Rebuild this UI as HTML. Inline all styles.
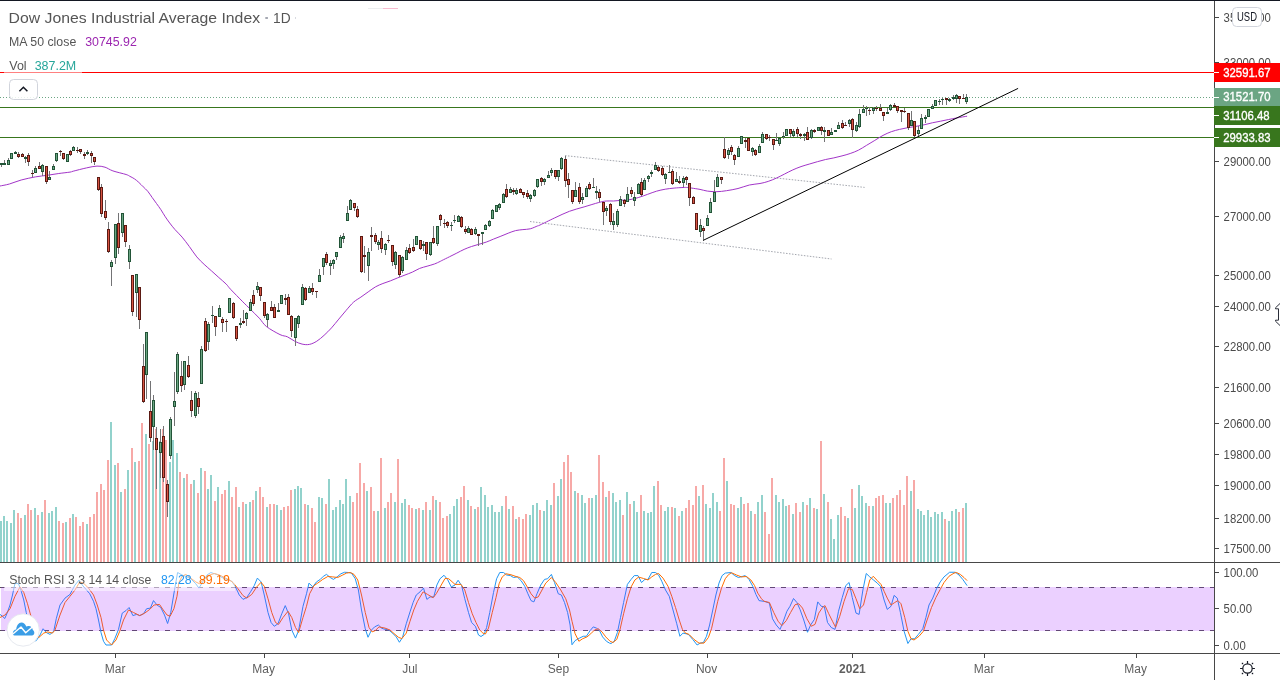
<!DOCTYPE html>
<html><head><meta charset="utf-8"><title>Dow Jones Industrial Average Index</title>
<style>
html,body{margin:0;padding:0;background:#fff;}
body{width:1280px;height:680px;overflow:hidden;position:relative;font-family:'Liberation Sans', Arial, sans-serif;}
svg{position:absolute;left:0;top:0;display:block;}
#main{will-change:transform;}
</style></head><body>
<svg id="main" width="1280" height="680" viewBox="0 0 1280 680" font-family="'Liberation Sans', Arial, sans-serif">
<rect x="0" y="0" width="1280" height="680" fill="#ffffff"/>
<g shape-rendering="crispEdges"><rect x="0" y="521" width="2" height="41" fill="#92d2cc"/><rect x="3" y="516" width="2" height="46" fill="#92d2cc"/><rect x="6" y="521" width="2" height="41" fill="#92d2cc"/><rect x="10" y="523" width="2" height="39" fill="#92d2cc"/><rect x="13" y="510" width="2" height="52" fill="#92d2cc"/><rect x="17" y="513" width="2" height="49" fill="#f7a9a7"/><rect x="20" y="518" width="2" height="44" fill="#f7a9a7"/><rect x="24" y="515" width="2" height="47" fill="#92d2cc"/><rect x="27" y="504" width="2" height="58" fill="#f7a9a7"/><rect x="30" y="510" width="2" height="52" fill="#f7a9a7"/><rect x="34" y="508" width="2" height="54" fill="#92d2cc"/><rect x="37" y="515" width="2" height="47" fill="#f7a9a7"/><rect x="41" y="512" width="2" height="50" fill="#92d2cc"/><rect x="44" y="500" width="2" height="62" fill="#f7a9a7"/><rect x="48" y="513" width="2" height="49" fill="#92d2cc"/><rect x="51" y="511" width="2" height="51" fill="#92d2cc"/><rect x="55" y="507" width="2" height="55" fill="#92d2cc"/><rect x="58" y="521" width="2" height="41" fill="#f7a9a7"/><rect x="62" y="523" width="2" height="39" fill="#f7a9a7"/><rect x="65" y="522" width="2" height="40" fill="#92d2cc"/><rect x="69" y="518" width="2" height="44" fill="#f7a9a7"/><rect x="72" y="514" width="2" height="48" fill="#92d2cc"/><rect x="75" y="517" width="2" height="45" fill="#f7a9a7"/><rect x="79" y="526" width="2" height="36" fill="#f7a9a7"/><rect x="82" y="522" width="2" height="40" fill="#f7a9a7"/><rect x="86" y="524" width="2" height="38" fill="#92d2cc"/><rect x="89" y="517" width="2" height="45" fill="#f7a9a7"/><rect x="93" y="514" width="2" height="48" fill="#f7a9a7"/><rect x="96" y="492" width="2" height="70" fill="#f7a9a7"/><rect x="100" y="484" width="2" height="78" fill="#f7a9a7"/><rect x="103" y="490" width="2" height="72" fill="#f7a9a7"/><rect x="107" y="460" width="2" height="102" fill="#f7a9a7"/><rect x="110" y="422" width="2" height="140" fill="#92d2cc"/><rect x="114" y="465" width="2" height="97" fill="#92d2cc"/><rect x="117" y="463" width="2" height="99" fill="#f7a9a7"/><rect x="120" y="492" width="2" height="70" fill="#92d2cc"/><rect x="124" y="489" width="2" height="73" fill="#f7a9a7"/><rect x="127" y="470" width="2" height="92" fill="#92d2cc"/><rect x="131" y="448" width="2" height="114" fill="#f7a9a7"/><rect x="134" y="462" width="2" height="100" fill="#92d2cc"/><rect x="138" y="461" width="2" height="101" fill="#f7a9a7"/><rect x="141" y="423" width="2" height="139" fill="#f7a9a7"/><rect x="145" y="434" width="2" height="128" fill="#92d2cc"/><rect x="148" y="444" width="2" height="118" fill="#f7a9a7"/><rect x="152" y="441" width="2" height="121" fill="#92d2cc"/><rect x="155" y="429" width="2" height="133" fill="#f7a9a7"/><rect x="159" y="441" width="2" height="121" fill="#92d2cc"/><rect x="162" y="429" width="2" height="133" fill="#f7a9a7"/><rect x="165" y="440" width="2" height="122" fill="#f7a9a7"/><rect x="169" y="462" width="2" height="100" fill="#92d2cc"/><rect x="172" y="440" width="2" height="122" fill="#92d2cc"/><rect x="176" y="453" width="2" height="109" fill="#92d2cc"/><rect x="179" y="472" width="2" height="90" fill="#f7a9a7"/><rect x="183" y="478" width="2" height="84" fill="#92d2cc"/><rect x="186" y="474" width="2" height="88" fill="#f7a9a7"/><rect x="190" y="484" width="2" height="78" fill="#f7a9a7"/><rect x="193" y="480" width="2" height="82" fill="#92d2cc"/><rect x="197" y="493" width="2" height="69" fill="#f7a9a7"/><rect x="200" y="468" width="2" height="94" fill="#92d2cc"/><rect x="204" y="471" width="2" height="91" fill="#f7a9a7"/><rect x="207" y="489" width="2" height="73" fill="#92d2cc"/><rect x="210" y="475" width="2" height="87" fill="#92d2cc"/><rect x="214" y="501" width="2" height="61" fill="#f7a9a7"/><rect x="217" y="487" width="2" height="75" fill="#92d2cc"/><rect x="221" y="494" width="2" height="68" fill="#f7a9a7"/><rect x="224" y="490" width="2" height="72" fill="#f7a9a7"/><rect x="228" y="481" width="2" height="81" fill="#92d2cc"/><rect x="231" y="497" width="2" height="65" fill="#f7a9a7"/><rect x="235" y="487" width="2" height="75" fill="#f7a9a7"/><rect x="238" y="507" width="2" height="55" fill="#92d2cc"/><rect x="242" y="502" width="2" height="60" fill="#f7a9a7"/><rect x="245" y="504" width="2" height="58" fill="#92d2cc"/><rect x="249" y="502" width="2" height="60" fill="#92d2cc"/><rect x="252" y="500" width="2" height="62" fill="#f7a9a7"/><rect x="255" y="491" width="2" height="71" fill="#92d2cc"/><rect x="259" y="487" width="2" height="75" fill="#f7a9a7"/><rect x="262" y="497" width="2" height="65" fill="#f7a9a7"/><rect x="266" y="507" width="2" height="55" fill="#92d2cc"/><rect x="269" y="504" width="2" height="58" fill="#f7a9a7"/><rect x="273" y="504" width="2" height="58" fill="#f7a9a7"/><rect x="276" y="505" width="2" height="57" fill="#92d2cc"/><rect x="280" y="510" width="2" height="52" fill="#92d2cc"/><rect x="283" y="507" width="2" height="55" fill="#f7a9a7"/><rect x="287" y="506" width="2" height="56" fill="#f7a9a7"/><rect x="290" y="490" width="2" height="72" fill="#f7a9a7"/><rect x="294" y="489" width="2" height="73" fill="#92d2cc"/><rect x="297" y="486" width="2" height="76" fill="#92d2cc"/><rect x="300" y="488" width="2" height="74" fill="#92d2cc"/><rect x="304" y="504" width="2" height="58" fill="#f7a9a7"/><rect x="307" y="505" width="2" height="57" fill="#92d2cc"/><rect x="311" y="508" width="2" height="54" fill="#f7a9a7"/><rect x="314" y="522" width="2" height="40" fill="#f7a9a7"/><rect x="318" y="497" width="2" height="65" fill="#92d2cc"/><rect x="321" y="498" width="2" height="64" fill="#92d2cc"/><rect x="325" y="504" width="2" height="58" fill="#f7a9a7"/><rect x="328" y="479" width="2" height="83" fill="#92d2cc"/><rect x="332" y="510" width="2" height="52" fill="#92d2cc"/><rect x="335" y="507" width="2" height="55" fill="#92d2cc"/><rect x="339" y="500" width="2" height="62" fill="#92d2cc"/><rect x="342" y="504" width="2" height="58" fill="#92d2cc"/><rect x="345" y="479" width="2" height="83" fill="#92d2cc"/><rect x="349" y="496" width="2" height="66" fill="#92d2cc"/><rect x="352" y="502" width="2" height="60" fill="#f7a9a7"/><rect x="356" y="493" width="2" height="69" fill="#f7a9a7"/><rect x="359" y="463" width="2" height="99" fill="#f7a9a7"/><rect x="363" y="483" width="2" height="79" fill="#f7a9a7"/><rect x="366" y="491" width="2" height="71" fill="#92d2cc"/><rect x="370" y="487" width="2" height="75" fill="#f7a9a7"/><rect x="373" y="511" width="2" height="51" fill="#f7a9a7"/><rect x="377" y="511" width="2" height="51" fill="#92d2cc"/><rect x="380" y="458" width="2" height="104" fill="#f7a9a7"/><rect x="384" y="508" width="2" height="54" fill="#92d2cc"/><rect x="387" y="502" width="2" height="60" fill="#f7a9a7"/><rect x="390" y="493" width="2" height="69" fill="#f7a9a7"/><rect x="394" y="502" width="2" height="60" fill="#92d2cc"/><rect x="397" y="459" width="2" height="103" fill="#f7a9a7"/><rect x="401" y="503" width="2" height="59" fill="#92d2cc"/><rect x="404" y="499" width="2" height="63" fill="#92d2cc"/><rect x="408" y="505" width="2" height="57" fill="#f7a9a7"/><rect x="411" y="508" width="2" height="54" fill="#f7a9a7"/><rect x="415" y="509" width="2" height="53" fill="#92d2cc"/><rect x="418" y="508" width="2" height="54" fill="#f7a9a7"/><rect x="422" y="510" width="2" height="52" fill="#92d2cc"/><rect x="425" y="502" width="2" height="60" fill="#f7a9a7"/><rect x="429" y="510" width="2" height="52" fill="#92d2cc"/><rect x="432" y="496" width="2" height="66" fill="#f7a9a7"/><rect x="435" y="500" width="2" height="62" fill="#92d2cc"/><rect x="439" y="502" width="2" height="60" fill="#f7a9a7"/><rect x="442" y="518" width="2" height="44" fill="#f7a9a7"/><rect x="446" y="516" width="2" height="46" fill="#f7a9a7"/><rect x="449" y="514" width="2" height="48" fill="#92d2cc"/><rect x="453" y="506" width="2" height="56" fill="#92d2cc"/><rect x="456" y="499" width="2" height="63" fill="#92d2cc"/><rect x="460" y="497" width="2" height="65" fill="#f7a9a7"/><rect x="463" y="486" width="2" height="76" fill="#f7a9a7"/><rect x="467" y="500" width="2" height="62" fill="#92d2cc"/><rect x="470" y="506" width="2" height="56" fill="#f7a9a7"/><rect x="474" y="509" width="2" height="53" fill="#92d2cc"/><rect x="477" y="507" width="2" height="55" fill="#f7a9a7"/><rect x="480" y="487" width="2" height="75" fill="#92d2cc"/><rect x="484" y="495" width="2" height="67" fill="#92d2cc"/><rect x="487" y="507" width="2" height="55" fill="#92d2cc"/><rect x="491" y="505" width="2" height="57" fill="#92d2cc"/><rect x="494" y="512" width="2" height="50" fill="#92d2cc"/><rect x="498" y="512" width="2" height="50" fill="#92d2cc"/><rect x="501" y="506" width="2" height="56" fill="#92d2cc"/><rect x="505" y="496" width="2" height="66" fill="#f7a9a7"/><rect x="508" y="509" width="2" height="53" fill="#92d2cc"/><rect x="512" y="506" width="2" height="56" fill="#f7a9a7"/><rect x="515" y="519" width="2" height="43" fill="#92d2cc"/><rect x="518" y="517" width="2" height="45" fill="#f7a9a7"/><rect x="522" y="519" width="2" height="43" fill="#f7a9a7"/><rect x="525" y="514" width="2" height="48" fill="#f7a9a7"/><rect x="529" y="515" width="2" height="47" fill="#92d2cc"/><rect x="532" y="505" width="2" height="57" fill="#92d2cc"/><rect x="536" y="503" width="2" height="59" fill="#92d2cc"/><rect x="539" y="510" width="2" height="52" fill="#f7a9a7"/><rect x="543" y="511" width="2" height="51" fill="#92d2cc"/><rect x="546" y="500" width="2" height="62" fill="#92d2cc"/><rect x="550" y="505" width="2" height="57" fill="#92d2cc"/><rect x="553" y="483" width="2" height="79" fill="#f7a9a7"/><rect x="557" y="496" width="2" height="66" fill="#92d2cc"/><rect x="560" y="479" width="2" height="83" fill="#92d2cc"/><rect x="563" y="462" width="2" height="100" fill="#f7a9a7"/><rect x="567" y="455" width="2" height="107" fill="#f7a9a7"/><rect x="570" y="472" width="2" height="90" fill="#f7a9a7"/><rect x="574" y="491" width="2" height="71" fill="#92d2cc"/><rect x="577" y="493" width="2" height="69" fill="#f7a9a7"/><rect x="581" y="495" width="2" height="67" fill="#92d2cc"/><rect x="584" y="503" width="2" height="59" fill="#92d2cc"/><rect x="588" y="498" width="2" height="64" fill="#f7a9a7"/><rect x="591" y="498" width="2" height="64" fill="#92d2cc"/><rect x="595" y="495" width="2" height="67" fill="#92d2cc"/><rect x="598" y="455" width="2" height="107" fill="#f7a9a7"/><rect x="602" y="482" width="2" height="80" fill="#f7a9a7"/><rect x="605" y="497" width="2" height="65" fill="#92d2cc"/><rect x="608" y="491" width="2" height="71" fill="#f7a9a7"/><rect x="612" y="493" width="2" height="69" fill="#92d2cc"/><rect x="615" y="502" width="2" height="60" fill="#92d2cc"/><rect x="619" y="500" width="2" height="62" fill="#92d2cc"/><rect x="622" y="515" width="2" height="47" fill="#f7a9a7"/><rect x="626" y="492" width="2" height="70" fill="#92d2cc"/><rect x="629" y="504" width="2" height="58" fill="#f7a9a7"/><rect x="633" y="501" width="2" height="61" fill="#92d2cc"/><rect x="636" y="512" width="2" height="50" fill="#92d2cc"/><rect x="640" y="495" width="2" height="67" fill="#f7a9a7"/><rect x="643" y="511" width="2" height="51" fill="#92d2cc"/><rect x="647" y="513" width="2" height="49" fill="#92d2cc"/><rect x="650" y="512" width="2" height="50" fill="#92d2cc"/><rect x="653" y="486" width="2" height="76" fill="#92d2cc"/><rect x="657" y="481" width="2" height="81" fill="#f7a9a7"/><rect x="660" y="505" width="2" height="57" fill="#f7a9a7"/><rect x="664" y="511" width="2" height="51" fill="#92d2cc"/><rect x="667" y="507" width="2" height="55" fill="#92d2cc"/><rect x="671" y="507" width="2" height="55" fill="#f7a9a7"/><rect x="674" y="508" width="2" height="54" fill="#92d2cc"/><rect x="678" y="516" width="2" height="46" fill="#f7a9a7"/><rect x="681" y="511" width="2" height="51" fill="#92d2cc"/><rect x="685" y="508" width="2" height="54" fill="#f7a9a7"/><rect x="688" y="500" width="2" height="62" fill="#f7a9a7"/><rect x="692" y="505" width="2" height="57" fill="#f7a9a7"/><rect x="695" y="486" width="2" height="76" fill="#f7a9a7"/><rect x="698" y="496" width="2" height="66" fill="#92d2cc"/><rect x="702" y="485" width="2" height="77" fill="#f7a9a7"/><rect x="705" y="504" width="2" height="58" fill="#92d2cc"/><rect x="709" y="508" width="2" height="54" fill="#92d2cc"/><rect x="712" y="493" width="2" height="69" fill="#92d2cc"/><rect x="716" y="502" width="2" height="60" fill="#92d2cc"/><rect x="719" y="511" width="2" height="51" fill="#f7a9a7"/><rect x="723" y="458" width="2" height="104" fill="#f7a9a7"/><rect x="726" y="481" width="2" height="81" fill="#92d2cc"/><rect x="730" y="504" width="2" height="58" fill="#f7a9a7"/><rect x="733" y="505" width="2" height="57" fill="#f7a9a7"/><rect x="737" y="508" width="2" height="54" fill="#92d2cc"/><rect x="740" y="497" width="2" height="65" fill="#92d2cc"/><rect x="743" y="504" width="2" height="58" fill="#f7a9a7"/><rect x="747" y="503" width="2" height="59" fill="#f7a9a7"/><rect x="750" y="511" width="2" height="51" fill="#92d2cc"/><rect x="754" y="514" width="2" height="48" fill="#f7a9a7"/><rect x="757" y="502" width="2" height="60" fill="#92d2cc"/><rect x="761" y="495" width="2" height="67" fill="#92d2cc"/><rect x="764" y="512" width="2" height="50" fill="#f7a9a7"/><rect x="768" y="534" width="2" height="28" fill="#f7a9a7"/><rect x="771" y="478" width="2" height="84" fill="#f7a9a7"/><rect x="775" y="495" width="2" height="67" fill="#92d2cc"/><rect x="778" y="502" width="2" height="60" fill="#92d2cc"/><rect x="782" y="499" width="2" height="63" fill="#92d2cc"/><rect x="785" y="506" width="2" height="56" fill="#92d2cc"/><rect x="788" y="505" width="2" height="57" fill="#f7a9a7"/><rect x="792" y="514" width="2" height="48" fill="#92d2cc"/><rect x="795" y="503" width="2" height="59" fill="#f7a9a7"/><rect x="799" y="512" width="2" height="50" fill="#f7a9a7"/><rect x="802" y="502" width="2" height="60" fill="#92d2cc"/><rect x="806" y="505" width="2" height="57" fill="#f7a9a7"/><rect x="809" y="498" width="2" height="64" fill="#92d2cc"/><rect x="813" y="508" width="2" height="54" fill="#f7a9a7"/><rect x="816" y="509" width="2" height="53" fill="#92d2cc"/><rect x="820" y="441" width="2" height="121" fill="#f7a9a7"/><rect x="823" y="494" width="2" height="68" fill="#92d2cc"/><rect x="827" y="502" width="2" height="60" fill="#f7a9a7"/><rect x="830" y="519" width="2" height="43" fill="#92d2cc"/><rect x="833" y="539" width="2" height="23" fill="#92d2cc"/><rect x="837" y="515" width="2" height="47" fill="#92d2cc"/><rect x="840" y="507" width="2" height="55" fill="#f7a9a7"/><rect x="844" y="516" width="2" height="46" fill="#f7a9a7"/><rect x="847" y="518" width="2" height="44" fill="#92d2cc"/><rect x="851" y="489" width="2" height="73" fill="#f7a9a7"/><rect x="854" y="508" width="2" height="54" fill="#92d2cc"/><rect x="858" y="485" width="2" height="77" fill="#92d2cc"/><rect x="861" y="496" width="2" height="66" fill="#92d2cc"/><rect x="865" y="503" width="2" height="59" fill="#92d2cc"/><rect x="868" y="506" width="2" height="56" fill="#f7a9a7"/><rect x="872" y="506" width="2" height="56" fill="#92d2cc"/><rect x="875" y="498" width="2" height="64" fill="#f7a9a7"/><rect x="878" y="496" width="2" height="66" fill="#f7a9a7"/><rect x="882" y="495" width="2" height="67" fill="#f7a9a7"/><rect x="885" y="503" width="2" height="59" fill="#92d2cc"/><rect x="889" y="503" width="2" height="59" fill="#92d2cc"/><rect x="892" y="498" width="2" height="64" fill="#f7a9a7"/><rect x="896" y="495" width="2" height="67" fill="#f7a9a7"/><rect x="899" y="490" width="2" height="72" fill="#f7a9a7"/><rect x="903" y="505" width="2" height="57" fill="#f7a9a7"/><rect x="906" y="476" width="2" height="86" fill="#f7a9a7"/><rect x="910" y="491" width="2" height="71" fill="#92d2cc"/><rect x="913" y="480" width="2" height="82" fill="#f7a9a7"/><rect x="917" y="509" width="2" height="53" fill="#92d2cc"/><rect x="920" y="511" width="2" height="51" fill="#92d2cc"/><rect x="923" y="515" width="2" height="47" fill="#92d2cc"/><rect x="927" y="510" width="2" height="52" fill="#92d2cc"/><rect x="930" y="517" width="2" height="45" fill="#92d2cc"/><rect x="934" y="512" width="2" height="50" fill="#92d2cc"/><rect x="937" y="514" width="2" height="48" fill="#92d2cc"/><rect x="941" y="512" width="2" height="50" fill="#92d2cc"/><rect x="944" y="519" width="2" height="43" fill="#f7a9a7"/><rect x="948" y="521" width="2" height="41" fill="#92d2cc"/><rect x="951" y="511" width="2" height="51" fill="#92d2cc"/><rect x="955" y="509" width="2" height="53" fill="#92d2cc"/><rect x="958" y="512" width="2" height="50" fill="#f7a9a7"/><rect x="962" y="508" width="2" height="54" fill="#f7a9a7"/><rect x="965" y="503" width="2" height="59" fill="#92d2cc"/></g>
<g shape-rendering="crispEdges">
<rect x="0" y="72" width="1214" height="1" fill="#ff0000"/>
<rect x="0" y="107" width="1214" height="1" fill="#38761d"/>
<rect x="0" y="137" width="1214" height="1" fill="#38761d"/>
</g>
<line x1="0" y1="97.5" x2="1214" y2="97.5" stroke="#6ba583" stroke-width="1" stroke-dasharray="1 2"/>
<line x1="565" y1="155.6" x2="864.6" y2="187.4" stroke="#a3a6ae" stroke-width="1" stroke-dasharray="1.5 1.5"/>
<line x1="530" y1="221.5" x2="831.5" y2="259" stroke="#a3a6ae" stroke-width="1" stroke-dasharray="1.5 1.5"/>
<path d="M0.00,186.00 C1.57,185.67 5.87,185.00 9.40,184.00 C12.93,183.00 16.88,181.18 21.20,180.00 C25.52,178.82 30.98,177.68 35.30,176.90 C39.62,176.12 43.18,175.87 47.10,175.30 C51.02,174.73 54.98,174.03 58.80,173.50 C62.62,172.97 67.60,172.48 70.00,172.10 C72.40,171.72 70.45,171.90 73.20,171.20 C75.95,170.50 82.53,168.75 86.50,167.90 C90.47,167.05 93.92,166.22 97.00,166.10 C100.08,165.98 102.35,166.40 105.00,167.20 C107.65,168.00 109.38,169.68 112.90,170.90 C116.42,172.12 123.25,173.58 126.10,174.50 C128.95,175.42 128.62,175.68 130.00,176.40 C131.38,177.12 132.93,177.80 134.40,178.80 C135.87,179.80 137.33,181.07 138.80,182.40 C140.27,183.73 141.72,185.33 143.20,186.80 C144.68,188.27 146.22,189.43 147.70,191.20 C149.18,192.97 150.63,195.35 152.10,197.40 C153.57,199.45 155.03,201.45 156.50,203.50 C157.97,205.55 159.43,207.48 160.90,209.70 C162.37,211.92 163.83,214.58 165.30,216.80 C166.77,219.02 168.08,220.87 169.70,223.00 C171.32,225.13 172.93,227.25 175.00,229.60 C177.07,231.95 179.70,234.27 182.10,237.10 C184.50,239.93 186.95,243.30 189.40,246.60 C191.85,249.90 194.35,253.95 196.80,256.90 C199.25,259.85 201.65,261.97 204.10,264.30 C206.55,266.63 209.05,268.70 211.50,270.90 C213.95,273.10 216.35,275.30 218.80,277.50 C221.25,279.70 224.23,282.13 226.20,284.10 C228.17,286.07 227.83,286.35 230.60,289.30 C233.37,292.25 239.58,298.55 242.80,301.80 C246.02,305.05 247.15,306.07 249.90,308.80 C252.65,311.53 256.55,315.25 259.30,318.20 C262.05,321.15 262.95,323.77 266.40,326.50 C269.85,329.23 276.50,332.88 280.00,334.60 C283.50,336.32 284.95,335.70 287.40,336.80 C289.85,337.90 292.25,339.98 294.70,341.20 C297.15,342.42 299.65,343.57 302.10,344.10 C304.55,344.63 306.95,344.88 309.40,344.40 C311.85,343.92 314.35,342.72 316.80,341.20 C319.25,339.68 321.65,337.52 324.10,335.30 C326.55,333.08 329.05,330.60 331.50,327.90 C333.95,325.20 336.35,322.03 338.80,319.10 C341.25,316.17 343.75,313.12 346.20,310.30 C348.65,307.48 351.05,304.40 353.50,302.20 C355.95,300.00 358.45,298.82 360.90,297.10 C363.35,295.38 365.75,293.62 368.20,291.90 C370.65,290.18 373.15,288.20 375.60,286.80 C378.05,285.40 380.45,284.48 382.90,283.50 C385.35,282.52 387.85,281.83 390.30,280.90 C392.75,279.97 395.15,278.88 397.60,277.90 C400.05,276.92 402.53,275.97 405.00,275.00 C407.47,274.03 409.95,273.20 412.40,272.10 C414.85,271.00 417.25,269.38 419.70,268.40 C422.15,267.42 424.65,266.93 427.10,266.20 C429.55,265.47 432.25,264.78 434.40,264.00 C436.55,263.22 438.72,262.10 440.00,261.50 C441.28,260.90 440.53,261.18 442.10,260.40 C443.67,259.62 446.95,258.02 449.40,256.80 C451.85,255.58 454.35,254.33 456.80,253.10 C459.25,251.87 461.65,250.50 464.10,249.40 C466.55,248.30 469.05,247.35 471.50,246.50 C473.95,245.65 476.35,245.03 478.80,244.30 C481.25,243.57 483.75,242.97 486.20,242.10 C488.65,241.23 491.05,240.08 493.50,239.10 C495.95,238.12 498.45,237.18 500.90,236.20 C503.35,235.22 505.75,234.13 508.20,233.20 C510.65,232.27 513.15,231.20 515.60,230.60 C518.05,230.00 520.45,229.90 522.90,229.60 C525.35,229.30 527.85,229.42 530.30,228.80 C532.75,228.18 535.98,226.53 537.60,225.90 C539.22,225.27 537.15,226.33 540.00,225.00 C542.85,223.67 549.80,220.18 554.70,217.90 C559.60,215.62 564.50,213.13 569.40,211.30 C574.30,209.47 579.20,208.37 584.10,206.90 C589.00,205.43 595.12,203.48 598.80,202.50 C602.48,201.52 603.75,201.25 606.20,201.00 C608.65,200.75 611.05,201.12 613.50,201.00 C615.95,200.88 618.15,200.53 620.90,200.30 C623.65,200.07 627.02,200.08 630.00,199.60 C632.98,199.12 635.85,198.28 638.80,197.40 C641.75,196.52 644.75,195.33 647.70,194.30 C650.65,193.27 653.57,192.05 656.50,191.20 C659.43,190.35 662.37,189.72 665.30,189.20 C668.23,188.68 671.15,188.38 674.10,188.10 C677.05,187.82 680.78,187.60 683.00,187.50 C685.22,187.40 685.93,187.40 687.40,187.50 C688.87,187.60 689.70,187.78 691.80,188.10 C693.90,188.42 697.40,188.90 700.00,189.40 C702.60,189.90 704.58,190.72 707.40,191.10 C710.22,191.48 713.72,191.77 716.90,191.70 C720.08,191.63 722.98,191.23 726.50,190.70 C730.02,190.17 734.18,189.45 738.00,188.50 C741.82,187.55 745.73,185.83 749.40,185.00 C753.07,184.17 756.87,184.10 760.00,183.50 C763.13,182.90 765.47,182.30 768.20,181.40 C770.93,180.50 773.67,179.33 776.40,178.10 C779.13,176.87 781.87,175.37 784.60,174.00 C787.33,172.63 790.07,171.13 792.80,169.90 C795.53,168.67 798.27,167.57 801.00,166.60 C803.73,165.63 806.47,164.92 809.20,164.10 C811.93,163.28 814.67,162.47 817.40,161.70 C820.13,160.93 822.87,160.13 825.60,159.50 C828.33,158.87 831.07,158.50 833.80,157.90 C836.53,157.30 839.27,156.63 842.00,155.90 C844.73,155.17 847.47,154.45 850.20,153.50 C852.93,152.55 855.67,151.57 858.40,150.20 C861.13,148.83 863.87,146.93 866.60,145.30 C869.33,143.67 872.07,142.05 874.80,140.40 C877.53,138.75 880.25,136.85 883.00,135.40 C885.75,133.95 888.55,132.70 891.30,131.70 C894.05,130.70 896.77,130.07 899.50,129.40 C902.23,128.73 904.97,128.20 907.70,127.70 C910.43,127.20 913.17,126.88 915.90,126.40 C918.63,125.92 921.37,125.40 924.10,124.80 C926.83,124.20 929.57,123.40 932.30,122.80 C935.03,122.20 937.77,121.75 940.50,121.20 C943.23,120.65 945.97,120.05 948.70,119.50 C951.43,118.95 953.83,118.45 956.90,117.90 C959.97,117.35 965.40,116.48 967.10,116.20" fill="none" stroke="#a235c8" stroke-width="1"/>
<g shape-rendering="crispEdges" fill="#737375"><rect x="1" y="163" width="1" height="4"/><rect x="4" y="160" width="1" height="5"/><rect x="8" y="158" width="1" height="7"/><rect x="11" y="153" width="1" height="6"/><rect x="15" y="151" width="1" height="3"/><rect x="18" y="152" width="1" height="6"/><rect x="22" y="153" width="1" height="4"/><rect x="25" y="156" width="1" height="7"/><rect x="28" y="153" width="1" height="13"/><rect x="32" y="170" width="1" height="7"/><rect x="35" y="166" width="1" height="7"/><rect x="39" y="162" width="1" height="7"/><rect x="42" y="164" width="1" height="12"/><rect x="46" y="166" width="1" height="18"/><rect x="49" y="171" width="1" height="9"/><rect x="53" y="164" width="1" height="6"/><rect x="56" y="153" width="1" height="9"/><rect x="60" y="150" width="1" height="6"/><rect x="63" y="153" width="1" height="7"/><rect x="67" y="154" width="1" height="8"/><rect x="70" y="150" width="1" height="6"/><rect x="73" y="146" width="1" height="5"/><rect x="77" y="147" width="1" height="6"/><rect x="80" y="149" width="1" height="5"/><rect x="84" y="152" width="1" height="7"/><rect x="87" y="150" width="1" height="5"/><rect x="91" y="151" width="1" height="12"/><rect x="94" y="157" width="1" height="8"/><rect x="98" y="177" width="1" height="14"/><rect x="101" y="184" width="1" height="33"/><rect x="105" y="200" width="1" height="20"/><rect x="108" y="222" width="1" height="31"/><rect x="111" y="260" width="1" height="26"/><rect x="115" y="224" width="1" height="40"/><rect x="118" y="213" width="1" height="41"/><rect x="122" y="213" width="1" height="24"/><rect x="125" y="225" width="1" height="22"/><rect x="129" y="245" width="1" height="24"/><rect x="132" y="275" width="1" height="41"/><rect x="136" y="274" width="1" height="43"/><rect x="139" y="287" width="1" height="42"/><rect x="143" y="344" width="1" height="59"/><rect x="146" y="332" width="1" height="67"/><rect x="150" y="381" width="1" height="61"/><rect x="153" y="395" width="1" height="55"/><rect x="156" y="427" width="1" height="62"/><rect x="160" y="429" width="1" height="49"/><rect x="163" y="426" width="1" height="56"/><rect x="167" y="480" width="1" height="37"/><rect x="170" y="417" width="1" height="42"/><rect x="174" y="372" width="1" height="54"/><rect x="177" y="352" width="1" height="42"/><rect x="181" y="361" width="1" height="31"/><rect x="184" y="361" width="1" height="29"/><rect x="188" y="356" width="1" height="22"/><rect x="191" y="391" width="1" height="26"/><rect x="195" y="391" width="1" height="27"/><rect x="198" y="392" width="1" height="22"/><rect x="201" y="346" width="1" height="38"/><rect x="205" y="318" width="1" height="34"/><rect x="208" y="322" width="1" height="28"/><rect x="212" y="306" width="1" height="17"/><rect x="215" y="316" width="1" height="20"/><rect x="219" y="305" width="1" height="12"/><rect x="222" y="317" width="1" height="15"/><rect x="226" y="319" width="1" height="13"/><rect x="229" y="298" width="1" height="15"/><rect x="233" y="302" width="1" height="17"/><rect x="236" y="326" width="1" height="15"/><rect x="240" y="318" width="1" height="10"/><rect x="243" y="310" width="1" height="14"/><rect x="246" y="312" width="1" height="14"/><rect x="250" y="299" width="1" height="12"/><rect x="253" y="290" width="1" height="16"/><rect x="257" y="282" width="1" height="11"/><rect x="260" y="287" width="1" height="14"/><rect x="264" y="302" width="1" height="16"/><rect x="267" y="313" width="1" height="14"/><rect x="271" y="301" width="1" height="10"/><rect x="274" y="304" width="1" height="14"/><rect x="278" y="303" width="1" height="9"/><rect x="281" y="295" width="1" height="9"/><rect x="285" y="294" width="1" height="11"/><rect x="288" y="294" width="1" height="21"/><rect x="291" y="315" width="1" height="22"/><rect x="295" y="318" width="1" height="28"/><rect x="298" y="315" width="1" height="13"/><rect x="302" y="284" width="1" height="21"/><rect x="305" y="287" width="1" height="14"/><rect x="309" y="286" width="1" height="7"/><rect x="312" y="283" width="1" height="12"/><rect x="316" y="291" width="1" height="7"/><rect x="319" y="269" width="1" height="13"/><rect x="323" y="258" width="1" height="17"/><rect x="326" y="252" width="1" height="13"/><rect x="330" y="260" width="1" height="15"/><rect x="333" y="259" width="1" height="10"/><rect x="336" y="252" width="1" height="8"/><rect x="340" y="235" width="1" height="13"/><rect x="343" y="233" width="1" height="10"/><rect x="347" y="206" width="1" height="15"/><rect x="350" y="199" width="1" height="11"/><rect x="354" y="203" width="1" height="8"/><rect x="357" y="206" width="1" height="12"/><rect x="361" y="236" width="1" height="37"/><rect x="364" y="246" width="1" height="27"/><rect x="368" y="248" width="1" height="33"/><rect x="371" y="227" width="1" height="24"/><rect x="375" y="233" width="1" height="11"/><rect x="378" y="240" width="1" height="10"/><rect x="381" y="231" width="1" height="22"/><rect x="385" y="243" width="1" height="12"/><rect x="388" y="235" width="1" height="8"/><rect x="392" y="245" width="1" height="21"/><rect x="395" y="251" width="1" height="18"/><rect x="399" y="255" width="1" height="22"/><rect x="402" y="256" width="1" height="17"/><rect x="406" y="247" width="1" height="13"/><rect x="409" y="244" width="1" height="10"/><rect x="413" y="239" width="1" height="13"/><rect x="416" y="236" width="1" height="9"/><rect x="420" y="240" width="1" height="10"/><rect x="423" y="241" width="1" height="10"/><rect x="426" y="242" width="1" height="18"/><rect x="430" y="242" width="1" height="14"/><rect x="433" y="226" width="1" height="18"/><rect x="437" y="226" width="1" height="20"/><rect x="440" y="214" width="1" height="12"/><rect x="444" y="219" width="1" height="9"/><rect x="447" y="221" width="1" height="7"/><rect x="451" y="222" width="1" height="9"/><rect x="454" y="215" width="1" height="8"/><rect x="458" y="215" width="1" height="7"/><rect x="461" y="216" width="1" height="12"/><rect x="465" y="226" width="1" height="8"/><rect x="468" y="226" width="1" height="7"/><rect x="471" y="228" width="1" height="7"/><rect x="475" y="227" width="1" height="8"/><rect x="478" y="234" width="1" height="12"/><rect x="482" y="232" width="1" height="13"/><rect x="485" y="224" width="1" height="6"/><rect x="489" y="220" width="1" height="7"/><rect x="492" y="209" width="1" height="10"/><rect x="496" y="205" width="1" height="7"/><rect x="499" y="203" width="1" height="7"/><rect x="503" y="193" width="1" height="10"/><rect x="506" y="184" width="1" height="14"/><rect x="510" y="187" width="1" height="6"/><rect x="513" y="188" width="1" height="7"/><rect x="516" y="188" width="1" height="7"/><rect x="520" y="188" width="1" height="5"/><rect x="523" y="192" width="1" height="6"/><rect x="527" y="190" width="1" height="9"/><rect x="530" y="194" width="1" height="8"/><rect x="534" y="189" width="1" height="8"/><rect x="537" y="179" width="1" height="9"/><rect x="541" y="177" width="1" height="9"/><rect x="544" y="178" width="1" height="7"/><rect x="548" y="171" width="1" height="7"/><rect x="551" y="168" width="1" height="8"/><rect x="555" y="170" width="1" height="9"/><rect x="558" y="170" width="1" height="11"/><rect x="561" y="157" width="1" height="13"/><rect x="565" y="156" width="1" height="31"/><rect x="568" y="173" width="1" height="25"/><rect x="572" y="190" width="1" height="14"/><rect x="575" y="182" width="1" height="15"/><rect x="579" y="183" width="1" height="21"/><rect x="582" y="193" width="1" height="11"/><rect x="586" y="186" width="1" height="11"/><rect x="589" y="182" width="1" height="8"/><rect x="593" y="178" width="1" height="10"/><rect x="596" y="186" width="1" height="13"/><rect x="599" y="189" width="1" height="13"/><rect x="603" y="202" width="1" height="23"/><rect x="606" y="206" width="1" height="10"/><rect x="610" y="203" width="1" height="22"/><rect x="613" y="213" width="1" height="17"/><rect x="617" y="209" width="1" height="18"/><rect x="620" y="196" width="1" height="10"/><rect x="624" y="199" width="1" height="8"/><rect x="627" y="187" width="1" height="15"/><rect x="631" y="187" width="1" height="10"/><rect x="634" y="192" width="1" height="14"/><rect x="638" y="183" width="1" height="11"/><rect x="641" y="178" width="1" height="18"/><rect x="644" y="178" width="1" height="12"/><rect x="648" y="175" width="1" height="7"/><rect x="651" y="170" width="1" height="7"/><rect x="655" y="162" width="1" height="8"/><rect x="658" y="166" width="1" height="6"/><rect x="662" y="166" width="1" height="10"/><rect x="665" y="173" width="1" height="11"/><rect x="669" y="165" width="1" height="8"/><rect x="672" y="169" width="1" height="16"/><rect x="676" y="172" width="1" height="10"/><rect x="679" y="176" width="1" height="8"/><rect x="683" y="176" width="1" height="11"/><rect x="686" y="176" width="1" height="9"/><rect x="689" y="183" width="1" height="23"/><rect x="693" y="196" width="1" height="8"/><rect x="696" y="213" width="1" height="17"/><rect x="700" y="219" width="1" height="18"/><rect x="703" y="226" width="1" height="15"/><rect x="707" y="215" width="1" height="11"/><rect x="710" y="198" width="1" height="15"/><rect x="714" y="180" width="1" height="22"/><rect x="717" y="174" width="1" height="13"/><rect x="721" y="177" width="1" height="7"/><rect x="724" y="137" width="1" height="22"/><rect x="728" y="148" width="1" height="11"/><rect x="731" y="145" width="1" height="10"/><rect x="734" y="154" width="1" height="11"/><rect x="738" y="146" width="1" height="11"/><rect x="741" y="136" width="1" height="8"/><rect x="745" y="138" width="1" height="10"/><rect x="748" y="138" width="1" height="13"/><rect x="752" y="147" width="1" height="9"/><rect x="755" y="149" width="1" height="7"/><rect x="759" y="144" width="1" height="9"/><rect x="762" y="132" width="1" height="11"/><rect x="766" y="134" width="1" height="6"/><rect x="769" y="135" width="1" height="6"/><rect x="773" y="139" width="1" height="11"/><rect x="776" y="133" width="1" height="7"/><rect x="779" y="138" width="1" height="8"/><rect x="783" y="132" width="1" height="7"/><rect x="786" y="129" width="1" height="7"/><rect x="790" y="129" width="1" height="8"/><rect x="793" y="129" width="1" height="8"/><rect x="797" y="127" width="1" height="10"/><rect x="800" y="133" width="1" height="6"/><rect x="804" y="133" width="1" height="8"/><rect x="807" y="127" width="1" height="13"/><rect x="811" y="129" width="1" height="10"/><rect x="814" y="129" width="1" height="4"/><rect x="818" y="127" width="1" height="3"/><rect x="821" y="126" width="1" height="9"/><rect x="824" y="127" width="1" height="15"/><rect x="828" y="130" width="1" height="6"/><rect x="831" y="128" width="1" height="7"/><rect x="835" y="130" width="1" height="2"/><rect x="838" y="122" width="1" height="7"/><rect x="842" y="120" width="1" height="9"/><rect x="845" y="122" width="1" height="4"/><rect x="849" y="119" width="1" height="8"/><rect x="852" y="118" width="1" height="20"/><rect x="856" y="122" width="1" height="10"/><rect x="859" y="109" width="1" height="19"/><rect x="863" y="105" width="1" height="8"/><rect x="866" y="106" width="1" height="10"/><rect x="869" y="107" width="1" height="8"/><rect x="873" y="107" width="1" height="7"/><rect x="876" y="106" width="1" height="5"/><rect x="880" y="104" width="1" height="7"/><rect x="883" y="112" width="1" height="9"/><rect x="887" y="108" width="1" height="6"/><rect x="890" y="104" width="1" height="7"/><rect x="894" y="103" width="1" height="4"/><rect x="897" y="106" width="1" height="7"/><rect x="901" y="110" width="1" height="12"/><rect x="904" y="108" width="1" height="5"/><rect x="908" y="113" width="1" height="17"/><rect x="911" y="111" width="1" height="15"/><rect x="914" y="121" width="1" height="16"/><rect x="918" y="126" width="1" height="10"/><rect x="921" y="114" width="1" height="15"/><rect x="925" y="115" width="1" height="8"/><rect x="928" y="109" width="1" height="8"/><rect x="932" y="104" width="1" height="5"/><rect x="935" y="100" width="1" height="6"/><rect x="939" y="99" width="1" height="6"/><rect x="942" y="98" width="1" height="7"/><rect x="946" y="98" width="1" height="7"/><rect x="949" y="98" width="1" height="4"/><rect x="953" y="95" width="1" height="5"/><rect x="956" y="94" width="1" height="9"/><rect x="959" y="96" width="1" height="8"/><rect x="963" y="94" width="1" height="5"/><rect x="966" y="94" width="1" height="10"/></g>
<g shape-rendering="crispEdges"><rect x="0" y="163" width="3" height="2" fill="#225437"/><rect x="3" y="163" width="3" height="2" fill="#225437"/><rect x="7" y="160" width="3" height="5" fill="#225437"/><rect x="8" y="161" width="1" height="3" fill="#6ba583"/><rect x="10" y="153" width="3" height="6" fill="#225437"/><rect x="11" y="154" width="1" height="4" fill="#6ba583"/><rect x="14" y="152" width="3" height="2" fill="#225437"/><rect x="17" y="154" width="3" height="3" fill="#5b1a13"/><rect x="18" y="155" width="1" height="1" fill="#d75442"/><rect x="21" y="154" width="3" height="3" fill="#5b1a13"/><rect x="22" y="155" width="1" height="1" fill="#d75442"/><rect x="24" y="157" width="3" height="2" fill="#225437"/><rect x="27" y="155" width="3" height="7" fill="#5b1a13"/><rect x="28" y="156" width="1" height="5" fill="#d75442"/><rect x="31" y="173" width="3" height="1" fill="#5b1a13"/><rect x="34" y="168" width="3" height="5" fill="#225437"/><rect x="35" y="169" width="1" height="3" fill="#6ba583"/><rect x="38" y="166" width="3" height="3" fill="#5b1a13"/><rect x="39" y="167" width="1" height="1" fill="#d75442"/><rect x="41" y="165" width="3" height="7" fill="#225437"/><rect x="42" y="166" width="1" height="5" fill="#6ba583"/><rect x="45" y="166" width="3" height="16" fill="#5b1a13"/><rect x="46" y="167" width="1" height="14" fill="#d75442"/><rect x="48" y="177" width="3" height="3" fill="#225437"/><rect x="49" y="178" width="1" height="1" fill="#6ba583"/><rect x="52" y="166" width="3" height="4" fill="#225437"/><rect x="53" y="167" width="1" height="2" fill="#6ba583"/><rect x="55" y="153" width="3" height="8" fill="#225437"/><rect x="56" y="154" width="1" height="6" fill="#6ba583"/><rect x="59" y="151" width="3" height="1" fill="#5b1a13"/><rect x="62" y="153" width="3" height="6" fill="#5b1a13"/><rect x="63" y="154" width="1" height="4" fill="#d75442"/><rect x="66" y="154" width="3" height="8" fill="#225437"/><rect x="67" y="155" width="1" height="6" fill="#6ba583"/><rect x="69" y="151" width="3" height="4" fill="#5b1a13"/><rect x="70" y="152" width="1" height="2" fill="#d75442"/><rect x="72" y="147" width="3" height="4" fill="#225437"/><rect x="73" y="148" width="1" height="2" fill="#6ba583"/><rect x="76" y="150" width="3" height="1" fill="#5b1a13"/><rect x="79" y="149" width="3" height="3" fill="#5b1a13"/><rect x="80" y="150" width="1" height="1" fill="#d75442"/><rect x="83" y="154" width="3" height="2" fill="#5b1a13"/><rect x="86" y="152" width="3" height="2" fill="#225437"/><rect x="90" y="153" width="3" height="3" fill="#5b1a13"/><rect x="91" y="154" width="1" height="1" fill="#d75442"/><rect x="93" y="157" width="3" height="5" fill="#5b1a13"/><rect x="94" y="158" width="1" height="3" fill="#d75442"/><rect x="97" y="177" width="3" height="13" fill="#5b1a13"/><rect x="98" y="178" width="1" height="11" fill="#d75442"/><rect x="100" y="187" width="3" height="27" fill="#5b1a13"/><rect x="101" y="188" width="1" height="25" fill="#d75442"/><rect x="104" y="211" width="3" height="7" fill="#5b1a13"/><rect x="105" y="212" width="1" height="5" fill="#d75442"/><rect x="107" y="229" width="3" height="23" fill="#5b1a13"/><rect x="108" y="230" width="1" height="21" fill="#d75442"/><rect x="110" y="262" width="3" height="5" fill="#225437"/><rect x="111" y="263" width="1" height="3" fill="#6ba583"/><rect x="114" y="224" width="3" height="34" fill="#225437"/><rect x="115" y="225" width="1" height="32" fill="#6ba583"/><rect x="117" y="223" width="3" height="25" fill="#5b1a13"/><rect x="118" y="224" width="1" height="23" fill="#d75442"/><rect x="121" y="213" width="3" height="20" fill="#225437"/><rect x="122" y="214" width="1" height="18" fill="#6ba583"/><rect x="124" y="225" width="3" height="17" fill="#5b1a13"/><rect x="125" y="226" width="1" height="15" fill="#d75442"/><rect x="128" y="249" width="3" height="13" fill="#225437"/><rect x="129" y="250" width="1" height="11" fill="#6ba583"/><rect x="131" y="275" width="3" height="37" fill="#5b1a13"/><rect x="132" y="276" width="1" height="35" fill="#d75442"/><rect x="135" y="274" width="3" height="19" fill="#225437"/><rect x="136" y="275" width="1" height="17" fill="#6ba583"/><rect x="138" y="287" width="3" height="33" fill="#5b1a13"/><rect x="139" y="288" width="1" height="31" fill="#d75442"/><rect x="142" y="366" width="3" height="36" fill="#5b1a13"/><rect x="143" y="367" width="1" height="34" fill="#d75442"/><rect x="145" y="332" width="3" height="43" fill="#225437"/><rect x="146" y="333" width="1" height="41" fill="#6ba583"/><rect x="149" y="411" width="3" height="27" fill="#5b1a13"/><rect x="150" y="412" width="1" height="25" fill="#d75442"/><rect x="152" y="400" width="3" height="27" fill="#225437"/><rect x="153" y="401" width="1" height="25" fill="#6ba583"/><rect x="155" y="438" width="3" height="12" fill="#5b1a13"/><rect x="156" y="439" width="1" height="10" fill="#d75442"/><rect x="159" y="442" width="3" height="11" fill="#225437"/><rect x="160" y="443" width="1" height="9" fill="#6ba583"/><rect x="162" y="436" width="3" height="42" fill="#5b1a13"/><rect x="163" y="437" width="1" height="40" fill="#d75442"/><rect x="166" y="484" width="3" height="18" fill="#5b1a13"/><rect x="167" y="485" width="1" height="16" fill="#d75442"/><rect x="169" y="419" width="3" height="37" fill="#225437"/><rect x="170" y="420" width="1" height="35" fill="#6ba583"/><rect x="173" y="401" width="3" height="6" fill="#225437"/><rect x="174" y="402" width="1" height="4" fill="#6ba583"/><rect x="176" y="354" width="3" height="38" fill="#225437"/><rect x="177" y="355" width="1" height="36" fill="#6ba583"/><rect x="180" y="376" width="3" height="10" fill="#5b1a13"/><rect x="181" y="377" width="1" height="8" fill="#d75442"/><rect x="183" y="361" width="3" height="24" fill="#225437"/><rect x="184" y="362" width="1" height="22" fill="#6ba583"/><rect x="187" y="365" width="3" height="12" fill="#5b1a13"/><rect x="188" y="366" width="1" height="10" fill="#d75442"/><rect x="190" y="400" width="3" height="11" fill="#5b1a13"/><rect x="191" y="401" width="1" height="9" fill="#d75442"/><rect x="194" y="393" width="3" height="23" fill="#225437"/><rect x="195" y="394" width="1" height="21" fill="#6ba583"/><rect x="197" y="398" width="3" height="9" fill="#5b1a13"/><rect x="198" y="399" width="1" height="7" fill="#d75442"/><rect x="200" y="349" width="3" height="35" fill="#225437"/><rect x="201" y="350" width="1" height="33" fill="#6ba583"/><rect x="204" y="321" width="3" height="30" fill="#5b1a13"/><rect x="205" y="322" width="1" height="28" fill="#d75442"/><rect x="207" y="324" width="3" height="18" fill="#225437"/><rect x="208" y="325" width="1" height="16" fill="#6ba583"/><rect x="211" y="315" width="3" height="1" fill="#225437"/><rect x="214" y="316" width="3" height="11" fill="#5b1a13"/><rect x="215" y="317" width="1" height="9" fill="#d75442"/><rect x="218" y="308" width="3" height="9" fill="#225437"/><rect x="219" y="309" width="1" height="7" fill="#6ba583"/><rect x="221" y="319" width="3" height="4" fill="#5b1a13"/><rect x="222" y="320" width="1" height="2" fill="#d75442"/><rect x="225" y="321" width="3" height="1" fill="#5b1a13"/><rect x="228" y="298" width="3" height="15" fill="#225437"/><rect x="229" y="299" width="1" height="13" fill="#6ba583"/><rect x="232" y="303" width="3" height="15" fill="#5b1a13"/><rect x="233" y="304" width="1" height="13" fill="#d75442"/><rect x="235" y="326" width="3" height="13" fill="#5b1a13"/><rect x="236" y="327" width="1" height="11" fill="#d75442"/><rect x="239" y="323" width="3" height="2" fill="#225437"/><rect x="242" y="321" width="3" height="2" fill="#5b1a13"/><rect x="245" y="313" width="3" height="6" fill="#225437"/><rect x="246" y="314" width="1" height="4" fill="#6ba583"/><rect x="249" y="302" width="3" height="9" fill="#225437"/><rect x="250" y="303" width="1" height="7" fill="#6ba583"/><rect x="252" y="295" width="3" height="9" fill="#5b1a13"/><rect x="253" y="296" width="1" height="7" fill="#d75442"/><rect x="256" y="286" width="3" height="4" fill="#225437"/><rect x="257" y="287" width="1" height="2" fill="#6ba583"/><rect x="259" y="287" width="3" height="9" fill="#5b1a13"/><rect x="260" y="288" width="1" height="7" fill="#d75442"/><rect x="263" y="302" width="3" height="14" fill="#5b1a13"/><rect x="264" y="303" width="1" height="12" fill="#d75442"/><rect x="266" y="314" width="3" height="6" fill="#225437"/><rect x="267" y="315" width="1" height="4" fill="#6ba583"/><rect x="270" y="307" width="3" height="4" fill="#5b1a13"/><rect x="271" y="308" width="1" height="2" fill="#d75442"/><rect x="273" y="307" width="3" height="11" fill="#5b1a13"/><rect x="274" y="308" width="1" height="9" fill="#d75442"/><rect x="277" y="310" width="3" height="2" fill="#225437"/><rect x="280" y="295" width="3" height="9" fill="#225437"/><rect x="281" y="296" width="1" height="7" fill="#6ba583"/><rect x="284" y="298" width="3" height="2" fill="#5b1a13"/><rect x="287" y="297" width="3" height="18" fill="#5b1a13"/><rect x="288" y="298" width="1" height="16" fill="#d75442"/><rect x="290" y="316" width="3" height="15" fill="#5b1a13"/><rect x="291" y="317" width="1" height="13" fill="#d75442"/><rect x="294" y="318" width="3" height="20" fill="#225437"/><rect x="295" y="319" width="1" height="18" fill="#6ba583"/><rect x="297" y="316" width="3" height="8" fill="#225437"/><rect x="298" y="317" width="1" height="6" fill="#6ba583"/><rect x="301" y="287" width="3" height="18" fill="#225437"/><rect x="302" y="288" width="1" height="16" fill="#6ba583"/><rect x="304" y="288" width="3" height="12" fill="#5b1a13"/><rect x="305" y="289" width="1" height="10" fill="#d75442"/><rect x="308" y="288" width="3" height="5" fill="#225437"/><rect x="309" y="289" width="1" height="3" fill="#6ba583"/><rect x="311" y="288" width="3" height="4" fill="#5b1a13"/><rect x="312" y="289" width="1" height="2" fill="#d75442"/><rect x="315" y="291" width="3" height="1" fill="#5b1a13"/><rect x="318" y="275" width="3" height="7" fill="#225437"/><rect x="319" y="276" width="1" height="5" fill="#6ba583"/><rect x="322" y="258" width="3" height="9" fill="#225437"/><rect x="323" y="259" width="1" height="7" fill="#6ba583"/><rect x="325" y="254" width="3" height="9" fill="#5b1a13"/><rect x="326" y="255" width="1" height="7" fill="#d75442"/><rect x="329" y="263" width="3" height="3" fill="#225437"/><rect x="330" y="264" width="1" height="1" fill="#6ba583"/><rect x="332" y="260" width="3" height="4" fill="#225437"/><rect x="333" y="261" width="1" height="2" fill="#6ba583"/><rect x="335" y="252" width="3" height="5" fill="#225437"/><rect x="336" y="253" width="1" height="3" fill="#6ba583"/><rect x="339" y="237" width="3" height="11" fill="#225437"/><rect x="340" y="238" width="1" height="9" fill="#6ba583"/><rect x="342" y="236" width="3" height="3" fill="#225437"/><rect x="343" y="237" width="1" height="1" fill="#6ba583"/><rect x="346" y="213" width="3" height="8" fill="#225437"/><rect x="347" y="214" width="1" height="6" fill="#6ba583"/><rect x="349" y="200" width="3" height="10" fill="#225437"/><rect x="350" y="201" width="1" height="8" fill="#6ba583"/><rect x="353" y="203" width="3" height="5" fill="#5b1a13"/><rect x="354" y="204" width="1" height="3" fill="#d75442"/><rect x="356" y="209" width="3" height="8" fill="#5b1a13"/><rect x="357" y="210" width="1" height="6" fill="#d75442"/><rect x="360" y="236" width="3" height="36" fill="#5b1a13"/><rect x="361" y="237" width="1" height="34" fill="#d75442"/><rect x="363" y="255" width="3" height="2" fill="#5b1a13"/><rect x="367" y="252" width="3" height="14" fill="#225437"/><rect x="368" y="253" width="1" height="12" fill="#6ba583"/><rect x="370" y="235" width="3" height="2" fill="#5b1a13"/><rect x="374" y="235" width="3" height="7" fill="#5b1a13"/><rect x="375" y="236" width="1" height="5" fill="#d75442"/><rect x="377" y="242" width="3" height="3" fill="#225437"/><rect x="378" y="243" width="1" height="1" fill="#6ba583"/><rect x="380" y="238" width="3" height="11" fill="#5b1a13"/><rect x="381" y="239" width="1" height="9" fill="#d75442"/><rect x="384" y="244" width="3" height="6" fill="#225437"/><rect x="385" y="245" width="1" height="4" fill="#6ba583"/><rect x="387" y="240" width="3" height="1" fill="#5b1a13"/><rect x="391" y="245" width="3" height="17" fill="#5b1a13"/><rect x="392" y="246" width="1" height="15" fill="#d75442"/><rect x="394" y="252" width="3" height="13" fill="#225437"/><rect x="395" y="253" width="1" height="11" fill="#6ba583"/><rect x="398" y="255" width="3" height="20" fill="#5b1a13"/><rect x="399" y="256" width="1" height="18" fill="#d75442"/><rect x="401" y="257" width="3" height="14" fill="#225437"/><rect x="402" y="258" width="1" height="12" fill="#6ba583"/><rect x="405" y="250" width="3" height="10" fill="#225437"/><rect x="406" y="251" width="1" height="8" fill="#6ba583"/><rect x="408" y="248" width="3" height="5" fill="#5b1a13"/><rect x="409" y="249" width="1" height="3" fill="#d75442"/><rect x="412" y="247" width="3" height="4" fill="#5b1a13"/><rect x="413" y="248" width="1" height="2" fill="#d75442"/><rect x="415" y="236" width="3" height="9" fill="#225437"/><rect x="416" y="237" width="1" height="7" fill="#6ba583"/><rect x="419" y="240" width="3" height="9" fill="#5b1a13"/><rect x="420" y="241" width="1" height="7" fill="#d75442"/><rect x="422" y="244" width="3" height="2" fill="#225437"/><rect x="425" y="242" width="3" height="12" fill="#5b1a13"/><rect x="426" y="243" width="1" height="10" fill="#d75442"/><rect x="429" y="242" width="3" height="13" fill="#225437"/><rect x="430" y="243" width="1" height="11" fill="#6ba583"/><rect x="432" y="238" width="3" height="5" fill="#5b1a13"/><rect x="433" y="239" width="1" height="3" fill="#d75442"/><rect x="436" y="226" width="3" height="18" fill="#225437"/><rect x="437" y="227" width="1" height="16" fill="#6ba583"/><rect x="439" y="215" width="3" height="5" fill="#5b1a13"/><rect x="440" y="216" width="1" height="3" fill="#d75442"/><rect x="443" y="223" width="3" height="1" fill="#5b1a13"/><rect x="446" y="222" width="3" height="4" fill="#5b1a13"/><rect x="447" y="223" width="1" height="2" fill="#d75442"/><rect x="450" y="225" width="3" height="1" fill="#225437"/><rect x="453" y="220" width="3" height="1" fill="#225437"/><rect x="457" y="216" width="3" height="6" fill="#225437"/><rect x="458" y="217" width="1" height="4" fill="#6ba583"/><rect x="460" y="217" width="3" height="10" fill="#5b1a13"/><rect x="461" y="218" width="1" height="8" fill="#d75442"/><rect x="464" y="229" width="3" height="3" fill="#5b1a13"/><rect x="465" y="230" width="1" height="1" fill="#d75442"/><rect x="467" y="228" width="3" height="5" fill="#225437"/><rect x="468" y="229" width="1" height="3" fill="#6ba583"/><rect x="470" y="229" width="3" height="6" fill="#5b1a13"/><rect x="471" y="230" width="1" height="4" fill="#d75442"/><rect x="474" y="229" width="3" height="5" fill="#225437"/><rect x="475" y="230" width="1" height="3" fill="#6ba583"/><rect x="477" y="234" width="3" height="2" fill="#5b1a13"/><rect x="481" y="232" width="3" height="2" fill="#225437"/><rect x="484" y="225" width="3" height="5" fill="#225437"/><rect x="485" y="226" width="1" height="3" fill="#6ba583"/><rect x="488" y="221" width="3" height="5" fill="#225437"/><rect x="489" y="222" width="1" height="3" fill="#6ba583"/><rect x="491" y="210" width="3" height="9" fill="#225437"/><rect x="492" y="211" width="1" height="7" fill="#6ba583"/><rect x="495" y="205" width="3" height="7" fill="#225437"/><rect x="496" y="206" width="1" height="5" fill="#6ba583"/><rect x="498" y="204" width="3" height="4" fill="#225437"/><rect x="499" y="205" width="1" height="2" fill="#6ba583"/><rect x="502" y="194" width="3" height="9" fill="#225437"/><rect x="503" y="195" width="1" height="7" fill="#6ba583"/><rect x="505" y="189" width="3" height="8" fill="#5b1a13"/><rect x="506" y="190" width="1" height="6" fill="#d75442"/><rect x="509" y="189" width="3" height="4" fill="#225437"/><rect x="510" y="190" width="1" height="2" fill="#6ba583"/><rect x="512" y="190" width="3" height="2" fill="#5b1a13"/><rect x="515" y="190" width="3" height="4" fill="#225437"/><rect x="516" y="191" width="1" height="2" fill="#6ba583"/><rect x="519" y="189" width="3" height="4" fill="#5b1a13"/><rect x="520" y="190" width="1" height="2" fill="#d75442"/><rect x="522" y="192" width="3" height="3" fill="#5b1a13"/><rect x="523" y="193" width="1" height="1" fill="#d75442"/><rect x="526" y="193" width="3" height="4" fill="#5b1a13"/><rect x="527" y="194" width="1" height="2" fill="#d75442"/><rect x="529" y="195" width="3" height="4" fill="#225437"/><rect x="530" y="196" width="1" height="2" fill="#6ba583"/><rect x="533" y="190" width="3" height="6" fill="#225437"/><rect x="534" y="191" width="1" height="4" fill="#6ba583"/><rect x="536" y="179" width="3" height="8" fill="#225437"/><rect x="537" y="180" width="1" height="6" fill="#6ba583"/><rect x="540" y="178" width="3" height="4" fill="#5b1a13"/><rect x="541" y="179" width="1" height="2" fill="#d75442"/><rect x="543" y="179" width="3" height="3" fill="#225437"/><rect x="544" y="180" width="1" height="1" fill="#6ba583"/><rect x="547" y="175" width="3" height="3" fill="#225437"/><rect x="548" y="176" width="1" height="1" fill="#6ba583"/><rect x="550" y="170" width="3" height="3" fill="#225437"/><rect x="551" y="171" width="1" height="1" fill="#6ba583"/><rect x="554" y="170" width="3" height="7" fill="#5b1a13"/><rect x="555" y="171" width="1" height="5" fill="#d75442"/><rect x="557" y="170" width="3" height="7" fill="#225437"/><rect x="558" y="171" width="1" height="5" fill="#6ba583"/><rect x="560" y="158" width="3" height="11" fill="#225437"/><rect x="561" y="159" width="1" height="9" fill="#6ba583"/><rect x="564" y="159" width="3" height="22" fill="#5b1a13"/><rect x="565" y="160" width="1" height="20" fill="#d75442"/><rect x="567" y="179" width="3" height="6" fill="#5b1a13"/><rect x="568" y="180" width="1" height="4" fill="#d75442"/><rect x="571" y="190" width="3" height="12" fill="#5b1a13"/><rect x="572" y="191" width="1" height="10" fill="#d75442"/><rect x="574" y="190" width="3" height="7" fill="#225437"/><rect x="575" y="191" width="1" height="5" fill="#6ba583"/><rect x="578" y="187" width="3" height="15" fill="#5b1a13"/><rect x="579" y="188" width="1" height="13" fill="#d75442"/><rect x="581" y="197" width="3" height="3" fill="#225437"/><rect x="582" y="198" width="1" height="1" fill="#6ba583"/><rect x="585" y="188" width="3" height="9" fill="#225437"/><rect x="586" y="189" width="1" height="7" fill="#6ba583"/><rect x="588" y="184" width="3" height="5" fill="#5b1a13"/><rect x="589" y="185" width="1" height="3" fill="#d75442"/><rect x="592" y="187" width="3" height="1" fill="#225437"/><rect x="595" y="191" width="3" height="2" fill="#225437"/><rect x="598" y="192" width="3" height="6" fill="#5b1a13"/><rect x="599" y="193" width="1" height="4" fill="#d75442"/><rect x="602" y="202" width="3" height="10" fill="#5b1a13"/><rect x="603" y="203" width="1" height="8" fill="#d75442"/><rect x="605" y="208" width="3" height="3" fill="#225437"/><rect x="606" y="209" width="1" height="1" fill="#6ba583"/><rect x="609" y="204" width="3" height="18" fill="#5b1a13"/><rect x="610" y="205" width="1" height="16" fill="#d75442"/><rect x="612" y="221" width="3" height="4" fill="#225437"/><rect x="613" y="222" width="1" height="2" fill="#6ba583"/><rect x="616" y="211" width="3" height="14" fill="#225437"/><rect x="617" y="212" width="1" height="12" fill="#6ba583"/><rect x="619" y="199" width="3" height="7" fill="#225437"/><rect x="620" y="200" width="1" height="5" fill="#6ba583"/><rect x="623" y="200" width="3" height="4" fill="#5b1a13"/><rect x="624" y="201" width="1" height="2" fill="#d75442"/><rect x="626" y="194" width="3" height="8" fill="#225437"/><rect x="627" y="195" width="1" height="6" fill="#6ba583"/><rect x="630" y="190" width="3" height="4" fill="#5b1a13"/><rect x="631" y="191" width="1" height="2" fill="#d75442"/><rect x="633" y="197" width="3" height="4" fill="#225437"/><rect x="634" y="198" width="1" height="2" fill="#6ba583"/><rect x="637" y="184" width="3" height="10" fill="#225437"/><rect x="638" y="185" width="1" height="8" fill="#6ba583"/><rect x="640" y="182" width="3" height="13" fill="#5b1a13"/><rect x="641" y="183" width="1" height="11" fill="#d75442"/><rect x="643" y="180" width="3" height="10" fill="#225437"/><rect x="644" y="181" width="1" height="8" fill="#6ba583"/><rect x="647" y="176" width="3" height="3" fill="#225437"/><rect x="648" y="177" width="1" height="1" fill="#6ba583"/><rect x="650" y="172" width="3" height="2" fill="#225437"/><rect x="654" y="165" width="3" height="5" fill="#225437"/><rect x="655" y="166" width="1" height="3" fill="#6ba583"/><rect x="657" y="167" width="3" height="4" fill="#5b1a13"/><rect x="658" y="168" width="1" height="2" fill="#d75442"/><rect x="661" y="168" width="3" height="7" fill="#5b1a13"/><rect x="662" y="169" width="1" height="5" fill="#d75442"/><rect x="664" y="174" width="3" height="5" fill="#225437"/><rect x="665" y="175" width="1" height="3" fill="#6ba583"/><rect x="668" y="172" width="3" height="1" fill="#225437"/><rect x="671" y="171" width="3" height="13" fill="#5b1a13"/><rect x="672" y="172" width="1" height="11" fill="#d75442"/><rect x="675" y="179" width="3" height="3" fill="#225437"/><rect x="676" y="180" width="1" height="1" fill="#6ba583"/><rect x="678" y="181" width="3" height="2" fill="#5b1a13"/><rect x="682" y="178" width="3" height="5" fill="#225437"/><rect x="683" y="179" width="1" height="3" fill="#6ba583"/><rect x="685" y="177" width="3" height="3" fill="#5b1a13"/><rect x="686" y="178" width="1" height="1" fill="#d75442"/><rect x="688" y="183" width="3" height="15" fill="#5b1a13"/><rect x="689" y="184" width="1" height="13" fill="#d75442"/><rect x="692" y="197" width="3" height="7" fill="#5b1a13"/><rect x="693" y="198" width="1" height="5" fill="#d75442"/><rect x="695" y="213" width="3" height="17" fill="#5b1a13"/><rect x="696" y="214" width="1" height="15" fill="#d75442"/><rect x="699" y="225" width="3" height="7" fill="#225437"/><rect x="700" y="226" width="1" height="5" fill="#6ba583"/><rect x="702" y="228" width="3" height="3" fill="#5b1a13"/><rect x="703" y="229" width="1" height="1" fill="#d75442"/><rect x="706" y="218" width="3" height="8" fill="#225437"/><rect x="707" y="219" width="1" height="6" fill="#6ba583"/><rect x="709" y="202" width="3" height="11" fill="#225437"/><rect x="710" y="203" width="1" height="9" fill="#6ba583"/><rect x="713" y="192" width="3" height="10" fill="#225437"/><rect x="714" y="193" width="1" height="8" fill="#6ba583"/><rect x="716" y="177" width="3" height="10" fill="#225437"/><rect x="717" y="178" width="1" height="8" fill="#6ba583"/><rect x="720" y="177" width="3" height="3" fill="#5b1a13"/><rect x="721" y="178" width="1" height="1" fill="#d75442"/><rect x="723" y="149" width="3" height="9" fill="#5b1a13"/><rect x="724" y="150" width="1" height="7" fill="#d75442"/><rect x="727" y="150" width="3" height="5" fill="#225437"/><rect x="728" y="151" width="1" height="3" fill="#6ba583"/><rect x="730" y="147" width="3" height="5" fill="#5b1a13"/><rect x="731" y="148" width="1" height="3" fill="#d75442"/><rect x="733" y="155" width="3" height="5" fill="#5b1a13"/><rect x="734" y="156" width="1" height="3" fill="#d75442"/><rect x="737" y="148" width="3" height="9" fill="#225437"/><rect x="738" y="149" width="1" height="7" fill="#6ba583"/><rect x="740" y="136" width="3" height="8" fill="#225437"/><rect x="741" y="137" width="1" height="6" fill="#6ba583"/><rect x="744" y="140" width="3" height="2" fill="#5b1a13"/><rect x="747" y="138" width="3" height="13" fill="#5b1a13"/><rect x="748" y="139" width="1" height="11" fill="#d75442"/><rect x="751" y="148" width="3" height="4" fill="#225437"/><rect x="752" y="149" width="1" height="2" fill="#6ba583"/><rect x="754" y="150" width="3" height="5" fill="#5b1a13"/><rect x="755" y="151" width="1" height="3" fill="#d75442"/><rect x="758" y="146" width="3" height="7" fill="#225437"/><rect x="759" y="147" width="1" height="5" fill="#6ba583"/><rect x="761" y="134" width="3" height="9" fill="#225437"/><rect x="762" y="135" width="1" height="7" fill="#6ba583"/><rect x="765" y="134" width="3" height="5" fill="#5b1a13"/><rect x="766" y="135" width="1" height="3" fill="#d75442"/><rect x="768" y="137" width="3" height="1" fill="#5b1a13"/><rect x="772" y="139" width="3" height="6" fill="#5b1a13"/><rect x="773" y="140" width="1" height="4" fill="#d75442"/><rect x="775" y="140" width="3" height="1" fill="#225437"/><rect x="778" y="138" width="3" height="6" fill="#225437"/><rect x="779" y="139" width="1" height="4" fill="#6ba583"/><rect x="782" y="136" width="3" height="1" fill="#225437"/><rect x="785" y="129" width="3" height="7" fill="#225437"/><rect x="786" y="130" width="1" height="5" fill="#6ba583"/><rect x="789" y="129" width="3" height="5" fill="#5b1a13"/><rect x="790" y="130" width="1" height="3" fill="#d75442"/><rect x="792" y="131" width="3" height="5" fill="#225437"/><rect x="793" y="132" width="1" height="3" fill="#6ba583"/><rect x="796" y="129" width="3" height="5" fill="#5b1a13"/><rect x="797" y="130" width="1" height="3" fill="#d75442"/><rect x="799" y="134" width="3" height="2" fill="#5b1a13"/><rect x="803" y="134" width="3" height="2" fill="#225437"/><rect x="806" y="132" width="3" height="8" fill="#5b1a13"/><rect x="807" y="133" width="1" height="6" fill="#d75442"/><rect x="810" y="130" width="3" height="8" fill="#225437"/><rect x="811" y="131" width="1" height="6" fill="#6ba583"/><rect x="813" y="130" width="3" height="2" fill="#5b1a13"/><rect x="817" y="127" width="3" height="4" fill="#225437"/><rect x="818" y="128" width="1" height="2" fill="#6ba583"/><rect x="820" y="127" width="3" height="4" fill="#5b1a13"/><rect x="821" y="128" width="1" height="2" fill="#d75442"/><rect x="823" y="130" width="3" height="2" fill="#225437"/><rect x="827" y="130" width="3" height="6" fill="#5b1a13"/><rect x="828" y="131" width="1" height="4" fill="#d75442"/><rect x="830" y="132" width="3" height="3" fill="#225437"/><rect x="831" y="133" width="1" height="1" fill="#6ba583"/><rect x="834" y="130" width="3" height="2" fill="#225437"/><rect x="837" y="125" width="3" height="4" fill="#225437"/><rect x="838" y="126" width="1" height="2" fill="#6ba583"/><rect x="841" y="123" width="3" height="5" fill="#5b1a13"/><rect x="842" y="124" width="1" height="3" fill="#d75442"/><rect x="844" y="125" width="3" height="1" fill="#5b1a13"/><rect x="848" y="120" width="3" height="4" fill="#225437"/><rect x="849" y="121" width="1" height="2" fill="#6ba583"/><rect x="851" y="119" width="3" height="11" fill="#5b1a13"/><rect x="852" y="120" width="1" height="9" fill="#d75442"/><rect x="855" y="125" width="3" height="6" fill="#225437"/><rect x="856" y="126" width="1" height="4" fill="#6ba583"/><rect x="858" y="114" width="3" height="13" fill="#225437"/><rect x="859" y="115" width="1" height="11" fill="#6ba583"/><rect x="862" y="109" width="3" height="4" fill="#225437"/><rect x="863" y="110" width="1" height="2" fill="#6ba583"/><rect x="865" y="108" width="3" height="1" fill="#225437"/><rect x="868" y="110" width="3" height="1" fill="#5b1a13"/><rect x="872" y="108" width="3" height="3" fill="#225437"/><rect x="873" y="109" width="1" height="1" fill="#6ba583"/><rect x="875" y="108" width="3" height="1" fill="#5b1a13"/><rect x="879" y="108" width="3" height="3" fill="#5b1a13"/><rect x="880" y="109" width="1" height="1" fill="#d75442"/><rect x="882" y="112" width="3" height="4" fill="#5b1a13"/><rect x="883" y="113" width="1" height="2" fill="#d75442"/><rect x="886" y="112" width="3" height="2" fill="#225437"/><rect x="889" y="105" width="3" height="5" fill="#225437"/><rect x="890" y="106" width="1" height="3" fill="#6ba583"/><rect x="893" y="105" width="3" height="2" fill="#5b1a13"/><rect x="896" y="106" width="3" height="5" fill="#5b1a13"/><rect x="897" y="107" width="1" height="3" fill="#d75442"/><rect x="900" y="110" width="3" height="2" fill="#5b1a13"/><rect x="903" y="111" width="3" height="1" fill="#5b1a13"/><rect x="907" y="113" width="3" height="15" fill="#5b1a13"/><rect x="908" y="114" width="1" height="13" fill="#d75442"/><rect x="910" y="120" width="3" height="6" fill="#225437"/><rect x="911" y="121" width="1" height="4" fill="#6ba583"/><rect x="913" y="121" width="3" height="15" fill="#5b1a13"/><rect x="914" y="122" width="1" height="13" fill="#d75442"/><rect x="917" y="130" width="3" height="4" fill="#225437"/><rect x="918" y="131" width="1" height="2" fill="#6ba583"/><rect x="920" y="118" width="3" height="11" fill="#225437"/><rect x="921" y="119" width="1" height="9" fill="#6ba583"/><rect x="924" y="117" width="3" height="2" fill="#225437"/><rect x="927" y="109" width="3" height="8" fill="#225437"/><rect x="928" y="110" width="1" height="6" fill="#6ba583"/><rect x="931" y="106" width="3" height="3" fill="#225437"/><rect x="932" y="107" width="1" height="1" fill="#6ba583"/><rect x="934" y="100" width="3" height="6" fill="#225437"/><rect x="935" y="101" width="1" height="4" fill="#6ba583"/><rect x="938" y="101" width="3" height="1" fill="#225437"/><rect x="941" y="99" width="3" height="1" fill="#225437"/><rect x="945" y="98" width="3" height="2" fill="#5b1a13"/><rect x="948" y="99" width="3" height="2" fill="#225437"/><rect x="952" y="97" width="3" height="2" fill="#225437"/><rect x="955" y="95" width="3" height="4" fill="#225437"/><rect x="956" y="96" width="1" height="2" fill="#6ba583"/><rect x="958" y="96" width="3" height="3" fill="#5b1a13"/><rect x="959" y="97" width="1" height="1" fill="#d75442"/><rect x="962" y="98" width="3" height="1" fill="#5b1a13"/><rect x="965" y="97" width="3" height="5" fill="#225437"/><rect x="966" y="98" width="1" height="3" fill="#6ba583"/></g>
<line x1="703.3" y1="240.3" x2="1018.1" y2="88.4" stroke="#000" stroke-width="1"/>
<rect x="4" y="57" width="78" height="16" fill="#fff" fill-opacity="0.5"/>
<g shape-rendering="crispEdges">
<rect x="0" y="0" width="1280" height="1" fill="#131722"/>
<rect x="0" y="562" width="1280" height="1" fill="#474747"/>
<rect x="0" y="653" width="1280" height="1" fill="#474747"/>
<rect x="1214" y="1" width="1" height="679" fill="#474747"/>
</g>
<line x1="0" y1="587.5" x2="1214" y2="587.5" stroke="#555555" stroke-width="1" stroke-dasharray="5 6"/>
<line x1="0" y1="630.5" x2="1214" y2="630.5" stroke="#555555" stroke-width="1" stroke-dasharray="5 6"/>
<polyline points="0.00,614.40 2.50,616.30 4.75,618.50 6.90,613.75 10.00,605.00 12.50,595.00 15.00,583.10 18.50,583.75 21.25,591.25 23.75,600.00 26.25,612.50 30.00,628.00 34.00,641.00 36.25,640.60 40.00,635.00 43.10,628.75 46.25,632.50 50.00,634.40 53.75,631.25 56.25,618.75 60.00,605.00 65.00,598.10 70.00,594.40 75.00,585.00 79.10,580.00 82.25,585.00 86.00,589.40 89.75,593.75 93.50,601.25 96.00,608.75 98.50,620.00 101.00,632.50 103.50,641.25 106.00,645.00 111.60,645.00 114.75,638.75 118.50,629.40 122.25,613.10 126.00,610.60 129.10,607.50 132.90,615.60 136.60,614.40 139.75,615.60 143.50,613.75 146.60,608.75 150.40,608.10 153.50,600.60 157.00,605.00 160.75,607.50 164.50,615.00 167.60,623.50 170.75,612.50 174.50,590.00 177.60,572.50 182.00,575.00 185.75,576.25 190.75,578.75 195.75,583.75 198.90,588.10 203.25,581.25 207.00,575.00 210.75,572.50 214.50,573.75 218.25,575.00 222.00,577.50 227.00,579.40 231.75,581.25 235.50,586.90 239.25,595.00 243.00,599.40 246.75,597.50 250.50,591.90 254.25,585.60 257.40,578.10 261.10,581.90 264.25,595.00 268.00,612.50 271.10,622.50 274.25,626.25 278.00,623.75 281.75,613.75 285.25,605.60 288.60,613.75 291.75,630.00 295.50,638.10 298.60,630.60 303.00,606.25 306.50,593.75 309.00,583.10 312.75,586.90 316.50,581.90 320.25,579.40 323.40,576.25 326.50,574.40 330.25,577.50 333.40,579.40 337.10,576.90 340.90,573.75 344.60,572.25 348.40,572.50 351.50,573.10 355.25,578.75 358.40,590.00 361.50,610.00 365.25,628.75 368.00,637.25 371.50,630.00 374.60,626.90 378.40,625.00 381.50,628.10 383.75,629.00 388.75,630.00 392.50,633.10 396.25,636.90 399.40,642.25 402.50,637.50 406.25,623.75 410.00,611.90 413.10,602.50 416.25,595.00 420.00,591.90 423.50,588.10 426.90,599.40 430.00,596.90 433.75,596.90 436.90,585.00 440.00,578.75 444.00,575.25 447.50,579.40 451.25,586.90 455.00,585.00 458.10,580.25 461.60,585.60 464.75,598.75 468.50,612.50 471.60,622.50 475.40,626.25 478.50,635.00 481.00,636.50 484.10,634.40 486.60,627.50 489.75,612.50 493.50,592.50 496.60,578.75 499.75,572.50 503.50,572.50 506.60,575.00 510.40,575.60 513.50,577.50 517.25,576.90 521.00,580.60 524.75,586.25 527.90,593.75 531.00,600.60 533.90,601.90 537.00,593.75 540.75,585.00 544.50,579.40 547.60,578.75 551.40,574.40 554.50,582.50 558.25,593.75 561.40,595.00 564.50,602.50 567.60,612.50 570.10,625.00 572.00,644.75 575.10,640.60 579.50,638.10 583.25,636.25 586.40,636.25 590.10,630.60 593.25,626.90 596.40,628.10 599.50,630.60 602.60,636.90 606.40,641.25 609.50,643.10 611.10,643.50 614.25,641.25 617.40,632.50 620.50,617.50 623.60,602.50 627.40,584.40 631.10,579.40 634.25,575.60 638.00,575.60 641.50,582.50 644.90,579.40 648.00,579.40 651.75,572.50 655.50,572.50 658.60,575.00 661.75,581.25 665.50,590.00 669.25,596.25 673.00,610.00 676.75,623.75 679.90,636.25 683.00,633.10 686.10,633.75 688.40,634.40 692.75,639.40 697.10,645.00 700.25,643.10 703.40,642.50 706.50,636.25 709.60,625.00 712.75,610.00 715.90,595.00 719.00,583.10 722.10,575.60 725.25,573.10 730.90,572.50 734.60,575.60 738.40,577.50 742.10,576.50 745.25,575.60 749.00,579.40 752.75,586.25 755.90,594.40 759.00,600.60 765.00,601.50 769.40,603.10 772.50,618.75 776.25,625.00 780.00,629.40 783.10,621.90 786.90,611.25 790.00,606.25 793.50,598.50 796.90,602.50 800.00,609.40 803.75,620.00 807.50,632.25 810.60,625.00 814.40,619.40 817.75,601.90 821.25,606.25 824.40,606.90 827.50,622.50 831.25,627.50 835.00,629.40 838.50,611.25 842.25,597.50 845.75,585.60 849.10,582.50 852.25,597.50 856.00,613.10 859.10,614.40 862.90,590.00 866.25,573.50 869.75,576.90 873.50,580.00 877.25,583.10 880.40,586.25 884.10,600.00 887.25,609.40 891.00,606.25 894.10,595.40 897.25,598.10 900.40,612.50 904.10,631.25 907.90,643.50 911.00,638.75 914.60,638.75 918.40,634.40 922.75,628.75 925.90,617.50 929.00,605.00 932.75,598.10 936.50,588.75 940.25,581.90 944.00,576.90 949.60,572.25 955.25,572.25 959.00,575.00 962.75,579.40 967.10,585.60" fill="none" stroke="#2196f3" stroke-width="1" stroke-linejoin="round"/>
<polyline points="0.00,617.50 5.00,615.00 10.00,608.75 15.00,596.25 20.00,586.90 23.75,592.50 27.50,603.75 30.60,615.00 34.00,630.00 38.75,637.50 43.75,633.10 47.50,631.90 52.50,633.10 55.00,630.00 60.00,615.00 65.00,602.50 70.00,596.25 75.00,590.00 79.75,581.90 83.50,583.10 88.50,588.10 93.50,595.00 97.25,605.00 101.00,617.50 103.50,630.00 106.60,640.00 111.60,645.00 116.00,640.00 119.75,631.25 123.50,620.00 128.50,610.00 133.50,612.50 139.75,615.60 144.75,613.10 149.75,609.40 154.10,605.00 159.50,604.40 163.25,610.00 167.00,615.00 170.10,616.25 173.90,608.75 177.00,596.25 178.90,582.50 182.00,576.25 185.75,574.40 190.75,578.10 195.75,581.90 199.50,583.75 204.50,578.75 209.50,575.00 214.50,573.50 219.50,575.00 224.50,577.50 229.50,580.00 233.00,582.50 238.00,588.75 243.00,595.60 246.75,598.10 251.75,594.40 256.75,586.90 261.10,582.25 264.25,586.25 268.00,598.75 271.75,612.50 275.50,622.50 278.60,624.40 283.00,617.50 288.00,611.25 291.75,617.50 295.50,627.50 298.60,632.50 303.00,617.50 306.50,606.25 309.60,593.75 314.00,585.60 317.75,583.10 322.75,579.40 327.75,576.50 332.75,576.90 337.75,577.50 342.75,575.00 346.50,573.10 350.25,572.50 354.00,574.40 357.75,580.00 361.50,595.00 365.25,612.50 369.00,627.50 372.10,631.90 375.25,630.60 379.00,626.90 385.00,628.10 390.00,630.00 395.00,634.40 398.75,637.50 401.90,638.50 406.25,633.10 410.00,621.25 413.75,610.00 417.50,601.25 423.10,591.90 427.50,594.40 433.10,597.75 436.25,593.75 441.25,585.00 445.00,578.50 448.75,578.75 455.00,584.40 461.00,584.40 464.75,590.00 468.50,602.50 472.25,613.75 476.00,622.50 479.75,630.00 482.90,633.10 485.40,634.00 488.50,628.10 492.25,612.50 496.00,597.50 499.10,583.75 502.25,576.90 506.00,573.75 511.00,574.75 516.00,576.50 519.75,577.50 523.50,580.60 527.25,586.90 531.00,593.75 534.75,598.10 538.25,596.90 542.00,590.00 545.75,583.10 551.40,577.50 555.75,582.50 560.75,590.00 565.75,598.75 569.50,610.00 572.00,621.25 575.10,633.75 578.90,641.25 582.60,638.75 587.00,636.90 590.75,633.75 594.50,630.00 598.25,628.75 602.00,631.90 605.75,636.90 610.10,641.25 613.00,642.50 616.75,639.40 619.90,630.00 623.60,613.75 627.40,598.75 631.10,586.90 634.90,580.00 638.60,577.10 643.60,578.50 648.00,580.00 651.75,576.90 655.50,574.40 658.60,573.50 663.00,578.10 668.00,586.25 671.75,596.25 675.50,607.50 679.25,620.00 682.40,629.40 685.50,633.10 689.00,634.40 694.00,639.40 699.00,643.10 704.00,643.10 708.40,637.50 711.50,628.75 714.60,615.00 717.75,601.25 721.50,588.10 725.25,578.75 728.40,574.75 731.50,572.75 736.50,575.00 741.50,576.90 746.50,576.50 750.90,580.00 754.60,585.60 757.75,593.10 761.50,598.75 764.00,601.25 769.40,602.50 773.75,612.50 778.10,621.25 781.90,625.60 786.25,620.60 790.60,612.50 795.00,604.75 798.75,603.75 802.50,608.10 806.90,618.75 811.25,626.25 815.00,624.40 818.75,613.10 822.50,607.50 825.00,605.60 828.75,613.75 832.50,621.25 835.60,627.25 839.75,616.25 844.10,601.25 848.50,588.75 852.25,589.40 856.00,598.75 859.75,608.75 863.50,605.00 866.60,592.50 869.75,580.00 873.25,576.25 877.25,580.60 881.00,584.40 884.10,591.25 887.25,598.10 891.00,605.00 894.75,602.50 897.90,600.60 901.00,603.75 904.75,617.50 907.90,631.25 911.00,638.75 914.00,640.00 919.00,636.25 923.40,631.25 927.10,620.00 931.50,607.50 935.90,597.50 940.25,589.40 944.00,582.50 949.00,576.25 954.00,573.10 956.50,572.50 960.25,574.40 964.00,577.50 967.10,580.60" fill="none" stroke="#ff6d00" stroke-width="1" stroke-linejoin="round"/>
<rect x="1" y="587" width="1213" height="44" fill="#9915ff" fill-opacity="0.2" shape-rendering="crispEdges"/>
<rect x="4" y="569" width="231" height="22" fill="#fff" fill-opacity="0.5"/>
<g shape-rendering="crispEdges"><rect x="1214" y="17" width="5" height="1" fill="#474747"/><rect x="1214" y="62" width="5" height="1" fill="#474747"/><rect x="1214" y="161" width="5" height="1" fill="#474747"/><rect x="1214" y="216" width="5" height="1" fill="#474747"/><rect x="1214" y="275" width="5" height="1" fill="#474747"/><rect x="1214" y="306" width="5" height="1" fill="#474747"/><rect x="1214" y="346" width="5" height="1" fill="#474747"/><rect x="1214" y="387" width="5" height="1" fill="#474747"/><rect x="1214" y="423" width="5" height="1" fill="#474747"/><rect x="1214" y="454" width="5" height="1" fill="#474747"/><rect x="1214" y="485" width="5" height="1" fill="#474747"/><rect x="1214" y="518" width="5" height="1" fill="#474747"/><rect x="1214" y="548" width="5" height="1" fill="#474747"/><rect x="1214" y="572" width="5" height="1" fill="#474747"/><rect x="1214" y="608" width="5" height="1" fill="#474747"/><rect x="1214" y="645" width="5" height="1" fill="#474747"/></g>
<g><text x="1223.60" y="21.9" font-size="12.3" fill="#4a4a4a" textLength="47.35" lengthAdjust="spacingAndGlyphs">35000.00</text><text x="1223.60" y="66.9" font-size="12.3" fill="#4a4a4a" textLength="47.35" lengthAdjust="spacingAndGlyphs">33000.00</text><text x="1223.60" y="165.9" font-size="12.3" fill="#4a4a4a" textLength="47.35" lengthAdjust="spacingAndGlyphs">29000.00</text><text x="1223.60" y="220.9" font-size="12.3" fill="#4a4a4a" textLength="47.35" lengthAdjust="spacingAndGlyphs">27000.00</text><text x="1223.60" y="279.9" font-size="12.3" fill="#4a4a4a" textLength="47.35" lengthAdjust="spacingAndGlyphs">25000.00</text><text x="1223.60" y="310.9" font-size="12.3" fill="#4a4a4a" textLength="47.35" lengthAdjust="spacingAndGlyphs">24000.00</text><text x="1223.60" y="350.9" font-size="12.3" fill="#4a4a4a" textLength="47.35" lengthAdjust="spacingAndGlyphs">22800.00</text><text x="1223.60" y="391.9" font-size="12.3" fill="#4a4a4a" textLength="47.35" lengthAdjust="spacingAndGlyphs">21600.00</text><text x="1223.60" y="427.9" font-size="12.3" fill="#4a4a4a" textLength="47.35" lengthAdjust="spacingAndGlyphs">20600.00</text><text x="1223.60" y="458.9" font-size="12.3" fill="#4a4a4a" textLength="47.35" lengthAdjust="spacingAndGlyphs">19800.00</text><text x="1223.60" y="489.9" font-size="12.3" fill="#4a4a4a" textLength="47.35" lengthAdjust="spacingAndGlyphs">19000.00</text><text x="1223.60" y="522.9" font-size="12.3" fill="#4a4a4a" textLength="47.35" lengthAdjust="spacingAndGlyphs">18200.00</text><text x="1223.60" y="552.9" font-size="12.3" fill="#4a4a4a" textLength="47.35" lengthAdjust="spacingAndGlyphs">17500.00</text><text x="1223.60" y="576.9" font-size="12.3" fill="#4a4a4a" textLength="34.72" lengthAdjust="spacingAndGlyphs">100.00</text><text x="1223.60" y="612.9" font-size="12.3" fill="#4a4a4a" textLength="28.41" lengthAdjust="spacingAndGlyphs">50.00</text><text x="1223.60" y="649.9" font-size="12.3" fill="#4a4a4a" textLength="22.10" lengthAdjust="spacingAndGlyphs">0.00</text></g>
<rect x="1214" y="63" width="66" height="19" fill="#ff0000" shape-rendering="crispEdges"/><rect x="1214" y="72" width="5" height="1" fill="#fff" shape-rendering="crispEdges"/><text x="1223.20" y="76.8" font-size="12.3" fill="#fff" textLength="47.35" lengthAdjust="spacingAndGlyphs" stroke="#fff" stroke-width="0.35">32591.67</text><rect x="1214" y="88" width="66" height="18" fill="#6ba583" shape-rendering="crispEdges"/><rect x="1214" y="97" width="5" height="1" fill="#fff" shape-rendering="crispEdges"/><text x="1223.20" y="101.3" font-size="12.3" fill="#fff" textLength="47.35" lengthAdjust="spacingAndGlyphs" stroke="#fff" stroke-width="0.35">31521.70</text><rect x="1214" y="106" width="66" height="19" fill="#38761d" shape-rendering="crispEdges"/><rect x="1214" y="115" width="5" height="1" fill="#fff" shape-rendering="crispEdges"/><text x="1223.20" y="119.8" font-size="12.3" fill="#fff" textLength="46.51" lengthAdjust="spacingAndGlyphs" stroke="#fff" stroke-width="0.35">31106.48</text><rect x="1214" y="128" width="66" height="19" fill="#38761d" shape-rendering="crispEdges"/><rect x="1214" y="137" width="5" height="1" fill="#fff" shape-rendering="crispEdges"/><text x="1223.20" y="141.8" font-size="12.3" fill="#fff" textLength="47.35" lengthAdjust="spacingAndGlyphs" stroke="#fff" stroke-width="0.35">29933.83</text>
<g shape-rendering="crispEdges"><rect x="115" y="653" width="1" height="5" fill="#474747"/><rect x="264" y="653" width="1" height="5" fill="#474747"/><rect x="409" y="653" width="1" height="5" fill="#474747"/><rect x="558" y="653" width="1" height="5" fill="#474747"/><rect x="707" y="653" width="1" height="5" fill="#474747"/><rect x="852" y="653" width="1" height="5" fill="#474747"/><rect x="984" y="653" width="1" height="5" fill="#474747"/><rect x="1136" y="653" width="1" height="5" fill="#474747"/></g>
<text x="104.72" y="672.9" font-size="12.3" fill="#5f5f5f" textLength="20.67" lengthAdjust="spacingAndGlyphs">Mar</text><text x="252.26" y="672.9" font-size="12.3" fill="#5f5f5f" textLength="22.67" lengthAdjust="spacingAndGlyphs">May</text><text x="402.19" y="672.9" font-size="12.3" fill="#5f5f5f" textLength="15.34" lengthAdjust="spacingAndGlyphs">Jul</text><text x="547.74" y="672.9" font-size="12.3" fill="#5f5f5f" textLength="21.35" lengthAdjust="spacingAndGlyphs">Sep</text><text x="695.93" y="672.9" font-size="12.3" fill="#5f5f5f" textLength="21.34" lengthAdjust="spacingAndGlyphs">Nov</text><text x="839.07" y="672.9" font-size="12.3" font-weight="bold" fill="#5f5f5f" textLength="26.70" lengthAdjust="spacingAndGlyphs">2021</text><text x="973.72" y="672.9" font-size="12.3" fill="#5f5f5f" textLength="20.67" lengthAdjust="spacingAndGlyphs">Mar</text><text x="1124.26" y="672.9" font-size="12.3" fill="#5f5f5f" textLength="22.67" lengthAdjust="spacingAndGlyphs">May</text>
<text x="8.56" y="22.9" font-size="15.2" fill="#555555" textLength="251.51" lengthAdjust="spacingAndGlyphs">Dow Jones Industrial Average Index</text><rect x="265.3" y="17" width="2.6" height="2" fill="#a5a8b2"/><text x="272.99" y="22.9" font-size="15.2" fill="#555555" textLength="17.58" lengthAdjust="spacingAndGlyphs">1D</text><rect x="295" y="17" width="1" height="2" fill="#d8dae0"/><text x="9.06" y="45.9" font-size="12.0" fill="#555555" textLength="67.21" lengthAdjust="spacingAndGlyphs">MA 50 close</text><text x="85.20" y="45.9" font-size="12.0" fill="#9c27b0" textLength="51.66" lengthAdjust="spacingAndGlyphs">30745.92</text><text x="9.25" y="69.8" font-size="12.0" fill="#555555" textLength="17.34" lengthAdjust="spacingAndGlyphs">Vol</text><text x="34.70" y="69.8" font-size="12.0" fill="#26a69a" textLength="41.55" lengthAdjust="spacingAndGlyphs">387.2M</text>
<rect x="368" y="8" width="15" height="1" fill="#eceef0"/>
<rect x="383" y="8" width="15" height="1" fill="#f8bbd0"/>
<text x="9.20" y="583.6" font-size="12.0" fill="#555555" textLength="142.07" lengthAdjust="spacingAndGlyphs">Stoch RSI 3 3 14 14 close</text><text x="160.90" y="583.6" font-size="12.0" fill="#2196f3" textLength="30.67" lengthAdjust="spacingAndGlyphs">82.28</text><text x="199.00" y="583.6" font-size="12.0" fill="#ff6d00" textLength="30.77" lengthAdjust="spacingAndGlyphs">89.19</text>
<rect x="9.5" y="79.5" width="28" height="20" rx="4" ry="4" fill="#fff" fill-opacity="0.85" stroke="#d1d4dc" stroke-width="1"/>
<polyline points="19.4,91.3 23.4,87.3 27.4,91.3" fill="none" stroke="#131722" stroke-width="1.5"/>
<circle cx="23.2" cy="630" r="16.2" fill="#fff" stroke="#e0e3eb" stroke-width="0.8"/>
<path d="M14.5,635.5 C13.3,635.5 12.7,634.5 12.8,633.2 C12.9,631.2 14.2,629.8 16.2,629.6 C16.5,625.5 18.8,622.6 21.3,622.6 C23.8,622.6 25.6,624.5 26.2,626.6 C27,626 28,625.8 29.2,626 C31.5,626.3 32.6,628.2 32.8,630 C33.8,630.5 34.4,631.8 34.3,633 C34.2,634.6 33.3,635.5 32,635.5 Z" fill="#3a9de6"/>
<polyline points="12.8,634 21,627 25.7,632.8 31.8,627.5" fill="none" stroke="#fff" stroke-width="1.4" stroke-linejoin="round" stroke-linecap="round"/>
<g transform="translate(1247.5,668.5)" fill="none" stroke="#131722" stroke-width="1.2">
<circle r="4.7"/>
<path d="M0,-4.7 V-7.4 M0,4.7 V7.4 M-4.7,0 H-7.4 M4.7,0 H7.4"/>
</g>
<g fill="#131722"><rect x="1241.8" y="662.8" width="1.4" height="1.4"/><rect x="1251.8" y="662.8" width="1.4" height="1.4"/><rect x="1241.8" y="672.8" width="1.4" height="1.4"/><rect x="1251.8" y="672.8" width="1.4" height="1.4"/></g>
<path d="M1280.5,303 L1275.5,307.8 L1275.5,308.8 L1278.5,308.8 L1278.5,320.2 L1275.5,320.2 L1275.5,321.2 L1280.5,326" fill="#fff" stroke="#2a2e39" stroke-width="1"/>
</svg>
<svg width="1280" height="40" viewBox="0 0 1280 40" font-family="'Liberation Sans', Arial, sans-serif" style="pointer-events:none">
<rect x="1232.5" y="7.5" width="29" height="19" rx="4" ry="4" fill="#fff" stroke="#d1d4dc" stroke-width="1"/>
<text x="1237.00" y="20.9" font-size="12.4" fill="#131722" textLength="19.96" lengthAdjust="spacingAndGlyphs">USD</text>
</svg>
</body></html>
